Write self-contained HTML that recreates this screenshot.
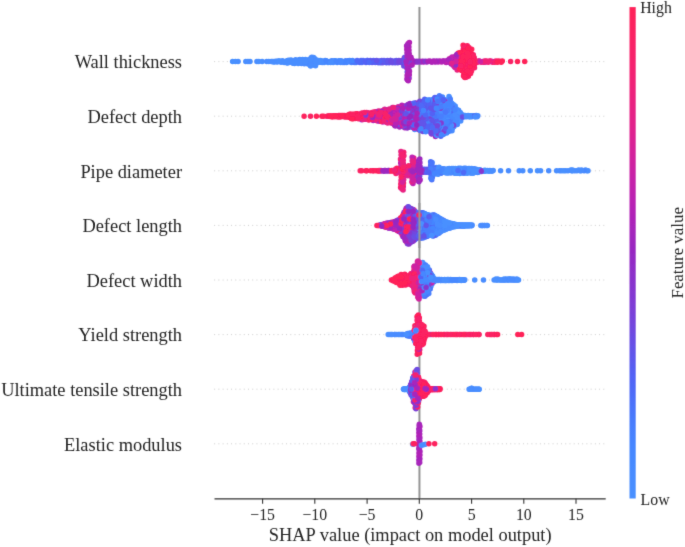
<!DOCTYPE html><html><head><meta charset="utf-8"><style>html,body{margin:0;padding:0;background:#fff;}svg{display:block}text{font-family:"Liberation Serif",serif;fill:#262626}</style></head><body>
<svg width="685" height="547" viewBox="0 0 685 547">
<defs><filter id="bl" x="0" y="0" width="100%" height="100%" filterUnits="userSpaceOnUse" primitiveUnits="userSpaceOnUse"><feConvolveMatrix order="3" kernelMatrix="0.0113 0.0838 0.0113 0.0838 0.6193 0.0838 0.0113 0.0838 0.0113" edgeMode="duplicate" preserveAlpha="false"/></filter></defs>
<rect width="685" height="547" fill="#fff"/>
<g filter="url(#bl)">
<line x1="214.2" y1="61.6" x2="605.7" y2="61.6" stroke="#c4c4c4" stroke-width="0.9" stroke-dasharray="0.9 3.33"/>
<line x1="214.2" y1="116.2" x2="605.7" y2="116.2" stroke="#c4c4c4" stroke-width="0.9" stroke-dasharray="0.9 3.33"/>
<line x1="214.2" y1="170.8" x2="605.7" y2="170.8" stroke="#c4c4c4" stroke-width="0.9" stroke-dasharray="0.9 3.33"/>
<line x1="214.2" y1="225.4" x2="605.7" y2="225.4" stroke="#c4c4c4" stroke-width="0.9" stroke-dasharray="0.9 3.33"/>
<line x1="214.2" y1="280.0" x2="605.7" y2="280.0" stroke="#c4c4c4" stroke-width="0.9" stroke-dasharray="0.9 3.33"/>
<line x1="214.2" y1="334.6" x2="605.7" y2="334.6" stroke="#c4c4c4" stroke-width="0.9" stroke-dasharray="0.9 3.33"/>
<line x1="214.2" y1="389.2" x2="605.7" y2="389.2" stroke="#c4c4c4" stroke-width="0.9" stroke-dasharray="0.9 3.33"/>
<line x1="214.2" y1="443.8" x2="605.7" y2="443.8" stroke="#c4c4c4" stroke-width="0.9" stroke-dasharray="0.9 3.33"/>
<line x1="419.45" y1="7.1" x2="419.45" y2="498.8" stroke="#949494" stroke-width="2.0"/>
<g fill="none" stroke-width="5.5" stroke-linecap="round"><path stroke="#4d70f9" d="M378.4 62.7h0"/><path stroke="#fb2062" d="M460.7 59.1h0M463.3 64.3h0M465.8 57.1h0M464.3 55.3h0M468.5 55.5h0M466.9 53.7h0M468.4 76.3h0M473.2 62.5h0"/><path stroke="#f52070" d="M474.5 67.7h0"/><path stroke="#5262f5" d="M361.1 60.6h0M364.2 61.6h0M366.0 62.6h0"/><path stroke="#4585ff" d="M331.8 60.7h0M351.4 62.6h0"/><path stroke="#8b32cb" d="M405.1 60.7h0M411.9 61.6h0"/><path stroke="#fd205d" d="M463.2 61.1h0M466.5 61.6h0M469.3 61.6h0M460.4 61.6h0M461.4 58.3h0M462.1 57.4h0M463.9 68.7h0M465.9 71.4h0M468.7 59.0h0M470.7 58.1h0M470.3 51.1h0"/><path stroke="#ff2058" d="M459.1 61.6h0M459.8 62.4h0M461.1 62.5h0M460.2 65.2h0M463.4 52.5h0M465.3 46.2h0M464.9 77.6h0M468.4 61.6h0M468.2 65.1h0M468.8 69.4h0M466.1 51.1h0M469.6 51.9h0M472.1 59.9h0M472.8 59.1h0M524.7 61.6h0"/><path stroke="#487efd" d="M345.8 60.7h0M348.8 61.6h0M347.7 60.7h0M350.7 61.6h0"/><path stroke="#c621a9" d="M485.0 62.2h0"/><path stroke="#4f69f7" d="M367.5 60.6h0"/><path stroke="#b822b4" d="M441.1 61.6h0M441.8 62.1h0M451.3 61.6h0M408.8 70.3h0M446.3 62.6h0M455.4 56.4h0"/><path stroke="#af23b7" d="M445.1 61.6h0M449.0 61.6h0M482.9 61.6h0M408.0 59.0h0M408.9 46.8h0M407.7 76.4h0M409.1 78.2h0M406.9 79.1h0M409.4 42.4h0M405.8 59.8h0M411.2 60.7h0M411.0 57.2h0"/><path stroke="#902dc6" d="M412.6 62.0h0M456.7 62.4h0"/><path stroke="#6a4ee4" d="M381.1 61.1h0M403.3 61.6h0"/><path stroke="#a725bb" d="M409.0 50.3h0M404.2 58.1h0M409.6 59.0h0"/><path stroke="#4687ff" d="M344.7 62.5h0"/><path stroke="#f7206b" d="M455.6 59.9h0M471.5 60.7h0"/><path stroke="#f12176" d="M456.0 61.6h0"/><path stroke="#4a90ff" d="M281.1 62.3h0M289.3 61.6h0M299.3 59.7h0M301.4 60.9h0M308.1 61.6h0M307.3 63.8h0M315.7 60.4h0M232.6 61.6h0M235.4 61.6h0M250.0 61.6h0"/><path stroke="#488cff" d="M286.6 62.7h0M301.6 63.6h0M309.9 63.4h0M311.4 60.2h0M316.8 62.2h0M319.7 62.2h0M321.5 62.1h0M322.2 62.6h0M315.2 59.1h0M314.1 64.1h0M248.0 61.6h0"/><path stroke="#c020b0" d="M450.2 61.1h0"/><path stroke="#7247de" d="M404.0 62.5h0M410.0 62.5h0"/><path stroke="#cd22a2" d="M453.4 61.6h0"/><path stroke="#498eff" d="M262.2 61.6h0M276.6 61.6h0M278.4 61.1h0M282.4 60.7h0M284.2 62.5h0M288.2 60.9h0M291.0 60.0h0M298.2 63.5h0M302.1 60.3h0M311.8 61.6h0M312.5 62.3h0M320.4 60.6h0M312.9 58.2h0"/><path stroke="#4789ff" d="M317.9 61.0h0M338.9 60.7h0M342.2 61.6h0M310.8 62.5h0"/><path stroke="#e82282" d="M490.8 61.0h0"/><path stroke="#9e26be" d="M449.9 62.4h0M450.6 63.1h0"/><path stroke="#d3229c" d="M479.3 61.0h0M453.2 65.0h0M458.1 67.5h0"/><path stroke="#f92066" d="M466.7 66.8h0M468.6 72.9h0M470.5 54.6h0M474.2 57.4h0"/><path stroke="#e42388" d="M491.9 61.6h0"/><path stroke="#6254e9" d="M375.7 61.1h0M377.0 61.6h0M380.0 62.1h0M381.8 60.5h0M382.1 62.1h0M385.7 62.1h0M389.6 61.0h0M392.9 61.0h0M393.7 61.6h0M405.1 60.7h0M406.4 59.0h0"/><path stroke="#4a77fb" d="M356.0 62.6h0"/><path stroke="#ff2058" d="M464.3 62.1h0M471.3 62.1h0M458.0 60.7h0M459.0 65.0h0M457.4 66.6h0M462.9 59.9h0M464.2 61.6h0M465.0 54.4h0M465.2 70.5h0M463.1 45.3h0M467.3 60.7h0M466.4 58.1h0M467.8 56.3h0M467.4 67.7h0M468.3 51.9h0M469.7 61.6h0M469.4 68.5h0"/><path stroke="#4687ff" d="M337.2 62.5h0"/><path stroke="#e82282" d="M454.3 61.6h0M456.1 55.5h0M459.2 55.5h0M457.2 70.0h0"/><path stroke="#487efd" d="M342.9 62.5h0"/><path stroke="#fb2062" d="M462.1 62.1h0M462.2 60.8h0M464.9 62.5h0M464.7 66.0h0M464.5 69.6h0M465.5 49.8h0M467.7 75.5h0M466.6 46.7h0M470.0 59.0h0M471.6 67.6h0M474.6 64.2h0M472.4 65.1h0"/><path stroke="#5262f5" d="M359.9 62.6h0M373.5 60.6h0M380.7 62.7h0"/><path stroke="#f7206b" d="M488.2 62.2h0M470.9 66.7h0"/><path stroke="#c020b0" d="M423.9 62.0h0M408.3 51.1h0"/><path stroke="#9628c2" d="M453.6 58.9h0"/><path stroke="#8536cf" d="M454.7 57.2h0"/><path stroke="#f52070" d="M476.6 61.6h0"/><path stroke="#4789ff" d="M285.9 62.2h0"/><path stroke="#f92066" d="M473.3 61.0h0M492.6 62.2h0M459.9 54.6h0M463.6 56.2h0M466.8 50.2h0M467.5 49.3h0M466.2 77.2h0M469.2 71.9h0M473.1 66.0h0M510.6 61.6h0"/><path stroke="#e0248e" d="M487.2 61.6h0M496.9 61.6h0M457.1 58.1h0"/><path stroke="#e42388" d="M451.0 60.7h0"/><path stroke="#b822b4" d="M440.5 61.6h0M451.4 58.0h0M404.6 63.4h0M406.0 65.1h0"/><path stroke="#6a4ee4" d="M377.7 62.1h0M387.5 60.5h0M394.4 62.2h0M411.4 64.2h0"/><path stroke="#7247de" d="M373.9 61.6h0M384.4 61.6h0M385.0 61.6h0M398.9 60.5h0M399.8 61.6h0M402.3 60.6h0M408.4 77.3h0"/><path stroke="#5a5bef" d="M370.3 60.6h0M372.1 62.6h0M383.3 61.1h0M395.6 61.0h0"/><path stroke="#4a90ff" d="M328.0 62.5h0"/><path stroke="#d3229c" d="M452.0 62.1h0"/><path stroke="#c621a9" d="M494.2 61.6h0"/><path stroke="#cd22a2" d="M449.4 58.8h0"/><path stroke="#f12176" d="M481.1 62.2h0M458.7 59.9h0"/><path stroke="#488cff" d="M266.7 61.6h0M272.3 61.6h0M274.0 61.6h0M280.4 61.6h0M296.1 61.6h0M295.6 59.8h0M311.0 59.8h0M311.8 57.2h0M314.8 65.0h0"/><path stroke="#fd205d" d="M470.6 61.6h0M474.4 61.6h0M457.6 63.3h0M458.4 52.9h0M461.2 54.9h0M462.6 53.2h0M465.1 58.0h0M464.1 51.6h0M463.5 75.8h0M466.5 70.3h0M471.1 63.3h0"/><path stroke="#9e26be" d="M447.4 60.6h0M456.5 65.7h0"/><path stroke="#902dc6" d="M421.2 62.0h0"/><path stroke="#a725bb" d="M434.8 61.6h0M408.7 58.1h0M407.6 79.9h0M451.3 63.9h0M405.3 64.2h0"/><path stroke="#4585ff" d="M349.6 60.6h0"/><path stroke="#da2395" d="M454.9 60.7h0"/><path stroke="#6254e9" d="M382.8 62.7h0M389.2 62.7h0"/><path stroke="#498eff" d="M275.8 61.3h0M274.7 61.9h0M277.3 62.1h0M297.5 62.6h0M300.9 62.9h0M299.8 59.6h0M307.0 60.9h0M305.9 62.3h0M306.6 63.1h0M313.6 60.9h0M312.2 64.2h0M312.7 62.4h0M314.5 59.9h0M313.6 57.4h0M245.8 61.6h0"/><path stroke="#af23b7" d="M439.4 61.1h0M406.6 60.7h0M409.1 63.3h0M407.8 55.5h0M406.6 45.9h0M408.0 44.1h0M454.3 66.6h0M412.3 61.6h0M410.7 63.4h0"/><path stroke="#ed227c" d="M476.5 62.6h0"/><path stroke="#4f69f7" d="M353.6 61.6h0"/><path stroke="#f7206b" d="M496.0 61.0h0M454.4 63.3h0M464.4 58.9h0M469.3 59.8h0M474.4 60.8h0M473.3 54.8h0"/><path stroke="#b822b4" d="M438.2 62.1h0M447.9 61.1h0M407.5 48.5h0"/><path stroke="#488cff" d="M256.9 61.6h0M287.7 60.5h0M298.6 60.6h0M303.8 63.0h0M307.7 60.1h0M308.5 61.6h0M319.0 61.6h0M323.4 61.6h0M324.1 62.6h0M311.1 58.1h0M314.9 61.6h0"/><path stroke="#4a77fb" d="M354.3 62.6h0"/><path stroke="#f52070" d="M486.1 61.0h0M457.8 57.2h0M464.0 65.2h0"/><path stroke="#fb2062" d="M498.7 61.0h0M500.5 61.6h0M458.3 64.1h0M463.1 60.7h0M465.6 63.4h0M463.3 48.9h0M466.1 62.5h0M467.5 64.2h0M466.0 65.9h0M467.3 45.8h0M470.6 73.6h0M471.9 56.5h0M473.8 66.8h0M475.8 61.6h0"/><path stroke="#8b32cb" d="M410.6 61.1h0M413.7 61.2h0"/><path stroke="#cd22a2" d="M455.1 64.1h0M458.8 68.3h0"/><path stroke="#a725bb" d="M431.4 62.1h0M453.2 61.1h0M407.3 59.9h0M408.9 66.8h0M406.7 67.7h0M408.1 69.5h0M409.3 74.7h0M452.9 59.8h0M452.5 64.1h0"/><path stroke="#4687ff" d="M346.6 62.5h0"/><path stroke="#f92066" d="M461.9 54.1h0M460.8 69.6h0M465.4 66.9h0M465.7 53.5h0M464.4 73.2h0M464.0 48.0h0M464.6 47.1h0"/><path stroke="#5a5bef" d="M378.9 61.1h0M384.0 60.5h0M386.8 61.1h0"/><path stroke="#9e26be" d="M433.4 61.1h0M457.8 61.1h0M449.2 61.6h0"/><path stroke="#fd205d" d="M457.7 53.8h0M461.5 70.5h0M463.7 72.3h0M465.8 74.9h0M467.0 74.6h0M471.3 57.2h0M469.8 55.5h0M471.2 53.7h0M473.5 58.2h0"/><path stroke="#6a4ee4" d="M401.7 61.1h0M403.9 62.5h0M403.8 66.0h0M409.9 66.0h0"/><path stroke="#4585ff" d="M344.0 61.6h0"/><path stroke="#902dc6" d="M415.1 61.6h0"/><path stroke="#d3229c" d="M453.9 65.8h0M455.0 67.4h0"/><path stroke="#4789ff" d="M327.3 61.6h0M330.0 61.6h0M335.4 60.7h0M340.0 61.6h0"/><path stroke="#498eff" d="M292.2 62.4h0M292.9 63.2h0M303.1 62.3h0M309.2 62.5h0M320.8 61.6h0M322.6 61.1h0M325.2 60.6h0M238.1 61.6h0"/><path stroke="#5262f5" d="M367.1 60.6h0"/><path stroke="#ff2058" d="M475.1 62.2h0M502.3 61.0h0M456.9 58.1h0M461.8 63.4h0M460.5 55.7h0M462.3 67.8h0M464.8 50.7h0M469.5 65.0h0M471.0 50.2h0M471.7 49.3h0"/><path stroke="#c020b0" d="M452.2 60.7h0M452.1 57.1h0"/><path stroke="#e42388" d="M478.4 61.0h0"/><path stroke="#7247de" d="M401.2 62.6h0"/><path stroke="#4f69f7" d="M363.1 60.6h0M361.9 62.6h0"/><path stroke="#6254e9" d="M371.4 61.6h0M392.5 62.7h0M396.3 60.5h0M395.1 62.7h0M400.5 62.1h0M407.2 72.1h0M404.9 57.2h0"/><path stroke="#da2395" d="M456.7 62.1h0M490.4 61.6h0"/><path stroke="#af23b7" d="M430.7 61.6h0M443.9 61.1h0M408.4 62.5h0M407.5 65.1h0M408.2 66.0h0M407.1 56.4h0M408.5 54.6h0M407.9 72.9h0M406.8 49.4h0M408.2 47.6h0M408.3 80.8h0M411.9 59.8h0"/><path stroke="#8536cf" d="M407.2 61.6h0M407.8 62.3h0M408.8 61.6h0"/><path stroke="#f12176" d="M459.4 59.0h0"/><path stroke="#4a90ff" d="M279.3 60.9h0M293.8 62.5h0M296.8 61.6h0M304.9 60.2h0M305.4 59.4h0M310.4 60.7h0M315.0 61.0h0M318.6 60.5h0M317.5 62.7h0"/><path stroke="#f52070" d="M477.3 62.2h0M459.6 65.8h0M458.5 56.4h0"/><path stroke="#e82282" d="M483.6 62.2h0"/><path stroke="#fb2062" d="M460.1 62.1h0M461.4 61.6h0M465.4 61.1h0M463.2 67.8h0M468.0 59.8h0M466.8 63.3h0M466.2 54.6h0M468.1 68.5h0M467.9 72.0h0M466.3 73.7h0M468.9 47.6h0M470.1 69.3h0M470.8 70.2h0M471.5 71.0h0M472.6 55.6h0M472.2 68.6h0M474.6 60.6h0"/><path stroke="#4789ff" d="M304.2 60.9h0M332.5 61.6h0M340.7 62.5h0M341.0 60.7h0M309.9 65.1h0"/><path stroke="#902dc6" d="M416.9 61.2h0M417.4 61.6h0M455.8 64.9h0"/><path stroke="#4585ff" d="M352.5 60.6h0"/><path stroke="#5a5bef" d="M368.6 61.6h0M375.3 62.6h0M386.4 62.7h0M388.5 62.2h0M397.1 62.2h0"/><path stroke="#4a90ff" d="M258.8 61.6h0M271.2 61.4h0M285.2 61.6h0M288.9 60.3h0M287.8 62.9h0M291.5 61.6h0M300.2 62.3h0M313.2 63.0h0M313.4 63.3h0"/><path stroke="#488cff" d="M304.4 63.7h0M314.5 62.8h0M334.3 60.7h0M333.2 62.5h0M310.1 61.6h0M311.9 60.7h0M309.7 59.8h0M311.5 63.4h0M313.8 60.8h0"/><path stroke="#4687ff" d="M326.2 60.7h0M336.5 61.6h0"/><path stroke="#5262f5" d="M365.3 61.6h0M374.6 62.1h0M379.3 61.6h0"/><path stroke="#b822b4" d="M445.8 62.1h0M446.7 62.1h0M407.7 61.6h0M406.9 64.2h0M408.6 73.8h0M408.7 43.3h0M456.3 59.0h0"/><path stroke="#9e26be" d="M423.3 61.6h0M427.0 62.0h0M436.7 61.1h0M456.8 54.6h0"/><path stroke="#f12176" d="M484.7 61.0h0M489.3 61.0h0"/><path stroke="#f7206b" d="M494.9 62.2h0M460.1 68.7h0M468.8 64.2h0"/><path stroke="#cd22a2" d="M480.4 61.6h0"/><path stroke="#4d70f9" d="M358.3 61.6h0"/><path stroke="#ff2058" d="M459.4 61.6h0M497.6 62.2h0M501.2 62.2h0M459.5 69.2h0M461.6 66.9h0M460.3 52.4h0M463.7 59.8h0M465.1 74.0h0M468.2 48.4h0M470.2 65.9h0M468.9 52.8h0M472.5 61.6h0M517.5 61.6h0"/><path stroke="#9628c2" d="M415.8 62.0h0M419.2 61.2h0M420.5 61.6h0M426.3 61.6h0M454.1 62.4h0"/><path stroke="#803bd4" d="M409.5 62.1h0"/><path stroke="#6254e9" d="M376.6 60.5h0M387.8 61.6h0M390.3 60.5h0M390.7 60.5h0"/><path stroke="#fd205d" d="M461.2 61.1h0M468.2 61.1h0M472.4 61.1h0M462.5 64.3h0M462.8 56.6h0M464.2 76.7h0M467.1 57.2h0M467.6 52.8h0M467.2 71.1h0M470.4 62.5h0M469.1 56.3h0M469.9 72.7h0M473.9 63.4h0"/><path stroke="#498eff" d="M268.8 61.6h0M273.0 61.8h0M283.5 61.6h0M287.0 61.0h0M290.0 62.3h0M293.3 60.8h0M294.9 60.7h0M294.5 63.4h0M299.6 61.6h0M305.3 61.6h0M302.6 59.5h0M316.1 61.6h0M330.7 62.5h0M310.4 59.0h0M310.6 66.0h0M315.5 65.8h0"/><path stroke="#7a40d8" d="M406.0 60.9h0"/><path stroke="#c020b0" d="M445.6 61.6h0"/><path stroke="#6a4ee4" d="M391.1 61.6h0M391.8 62.2h0M398.2 61.0h0M397.8 62.7h0"/><path stroke="#a725bb" d="M422.3 61.2h0M435.5 62.1h0M407.4 68.6h0M407.0 52.9h0M407.3 45.0h0M448.8 59.7h0M406.2 61.6h0M410.3 58.1h0"/><path stroke="#4f69f7" d="M357.1 60.6h0M359.2 61.6h0M369.3 62.6h0"/><path stroke="#7247de" d="M399.4 61.6h0"/><path stroke="#8b32cb" d="M418.1 62.0h0M425.1 61.2h0"/><path stroke="#af23b7" d="M428.1 61.2h0M429.6 61.1h0M434.5 61.6h0M432.3 62.1h0M443.0 61.1h0M455.0 62.1h0M409.4 57.2h0M409.2 53.7h0M407.6 52.0h0M409.5 71.2h0M407.1 75.6h0M412.1 65.1h0"/><path stroke="#d3229c" d="M456.0 61.6h0"/><path stroke="#f92066" d="M470.0 62.1h0M460.9 66.0h0"/><path stroke="#e0248e" d="M451.8 63.3h0"/><path stroke="#af23b7" d="M367.1 116.2h0M393.4 121.4h0M395.6 117.6h0"/><path stroke="#f52070" d="M358.6 116.2h0M363.0 115.1h0M364.5 116.2h0M373.8 116.2h0M385.6 112.1h0M390.9 112.3h0"/><path stroke="#ed227c" d="M363.6 118.3h0M379.0 119.6h0M386.0 110.7h0M387.9 111.0h0M396.8 117.5h0"/><path stroke="#498eff" d="M421.7 104.1h0M440.0 117.5h0M440.4 120.2h0M442.6 133.1h0M446.8 113.5h0M446.8 127.4h0M448.5 106.5h0M449.6 107.7h0M450.8 105.7h0M457.7 116.2h0M465.9 116.2h0M471.8 116.7h0M475.2 116.2h0M476.2 115.6h0"/><path stroke="#487efd" d="M431.2 106.8h0M433.0 105.3h0M433.4 117.5h0M435.0 106.9h0M437.3 114.9h0M437.2 109.5h0M439.6 106.7h0M439.3 132.2h0M439.0 97.2h0M443.1 112.1h0M444.3 120.3h0M449.0 118.9h0"/><path stroke="#f92066" d="M326.9 116.2h0M327.6 115.9h0M363.9 115.0h0"/><path stroke="#b822b4" d="M386.8 120.3h0M394.7 120.1h0M396.2 109.1h0M398.6 125.6h0M402.5 114.8h0"/><path stroke="#4789ff" d="M414.7 129.6h0M419.9 106.7h0M430.4 114.9h0M434.3 102.9h0M439.6 116.2h0M439.4 126.9h0M444.9 106.7h0M448.4 116.2h0M448.6 128.6h0M448.4 100.9h0M449.5 102.1h0M453.0 111.0h0M454.4 123.1h0"/><path stroke="#7a40d8" d="M410.1 114.8h0M412.9 111.0h0M418.6 114.9h0M422.0 125.9h0M424.0 126.0h0M423.1 128.8h0M431.3 112.2h0M434.2 120.2h0"/><path stroke="#4a90ff" d="M432.1 102.5h0M437.0 124.3h0M444.4 108.1h0M444.5 132.6h0M449.0 96.5h0M453.9 113.6h0M453.2 118.8h0M454.6 111.1h0M455.4 108.6h0M456.2 108.8h0"/><path stroke="#c621a9" d="M388.2 122.1h0M391.7 109.9h0M392.5 107.4h0M398.3 112.2h0M396.9 110.8h0"/><path stroke="#6254e9" d="M417.8 123.0h0M420.6 119.0h0M424.1 120.4h0M424.8 104.9h0M425.3 130.5h0M427.3 106.7h0M431.8 109.4h0M435.1 112.2h0M436.8 110.9h0M441.5 110.8h0M440.4 102.8h0M446.1 119.0h0"/><path stroke="#803bd4" d="M405.7 108.6h0M416.0 105.8h0M418.5 109.5h0M418.9 108.1h0M423.7 119.0h0M430.1 124.5h0M435.4 117.6h0"/><path stroke="#4d70f9" d="M409.1 106.3h0M421.1 123.1h0M422.9 116.2h0M424.9 129.2h0M427.4 112.1h0M428.2 102.9h0M431.4 123.1h0M431.6 118.9h0M440.2 130.8h0M440.6 132.2h0M442.0 98.4h0"/><path stroke="#7247de" d="M412.6 127.6h0M414.8 124.3h0M414.9 104.3h0M419.1 121.6h0M426.9 113.5h0M430.7 102.8h0M442.1 103.9h0M444.5 113.5h0"/><path stroke="#fd205d" d="M331.6 116.2h0M339.4 116.9h0M344.5 115.4h0M357.9 117.5h0M375.7 111.7h0"/><path stroke="#f7206b" d="M366.5 116.2h0M376.4 116.2h0"/><path stroke="#cd22a2" d="M382.0 118.9h0M398.2 106.8h0M404.2 117.5h0"/><path stroke="#5a5bef" d="M407.0 109.8h0M408.0 109.7h0M412.4 107.1h0M415.3 103.0h0M424.5 127.9h0M429.4 124.0h0M432.8 123.1h0M432.2 108.0h0M431.5 124.4h0M438.2 128.4h0M459.9 113.7h0"/><path stroke="#d3229c" d="M392.2 113.7h0"/><path stroke="#a725bb" d="M402.4 109.4h0M403.3 106.7h0M404.2 122.6h0M406.9 119.0h0M417.3 116.2h0"/><path stroke="#902dc6" d="M406.5 117.6h0M406.8 124.5h0M409.9 103.5h0M412.5 112.3h0M414.0 121.3h0M415.2 125.6h0M419.2 116.2h0M417.7 112.2h0"/><path stroke="#4687ff" d="M434.7 101.6h0M434.9 101.5h0M435.8 98.9h0M438.1 112.2h0M439.9 122.9h0M439.9 99.9h0M440.8 101.5h0M441.7 98.8h0M442.4 97.1h0M449.3 114.8h0M452.2 112.3h0M454.9 119.0h0M456.3 113.7h0"/><path stroke="#6a4ee4" d="M409.0 121.6h0M416.1 111.0h0M417.9 117.6h0M417.7 128.4h0M429.0 117.5h0M429.8 117.6h0M433.7 124.3h0M436.4 132.4h0M440.1 134.9h0"/><path stroke="#8b32cb" d="M393.0 111.2h0M408.6 126.7h0M418.8 129.8h0M437.7 132.5h0"/><path stroke="#4a77fb" d="M428.7 106.9h0M438.0 116.2h0M442.7 113.5h0M441.9 124.7h0"/><path stroke="#488cff" d="M438.8 109.4h0M441.5 129.5h0M442.9 101.2h0M443.8 124.4h0M445.6 123.2h0M446.7 108.1h0M451.4 114.9h0M451.6 120.2h0M451.0 124.1h0M453.5 114.9h0M460.2 116.2h0M461.1 117.9h0M473.2 116.2h0"/><path stroke="#ff2058" d="M330.3 116.5h0M333.9 116.2h0M332.6 116.8h0M343.7 116.2h0M347.2 117.0h0M350.1 113.9h0M351.1 118.3h0M353.2 118.8h0M356.4 116.2h0M355.7 115.0h0M356.1 113.8h0M360.2 117.4h0M360.6 118.5h0M366.2 113.7h0M390.5 113.6h0"/><path stroke="#9e26be" d="M399.1 110.6h0M405.1 120.0h0M405.9 127.3h0M416.6 109.7h0"/><path stroke="#f12176" d="M376.9 120.8h0M384.0 113.8h0M392.4 116.2h0M392.6 112.4h0"/><path stroke="#9628c2" d="M398.4 121.6h0M402.2 124.1h0M406.2 112.4h0M407.1 107.1h0M409.1 116.2h0M410.2 125.7h0M413.8 113.6h0"/><path stroke="#4585ff" d="M424.4 127.4h0M432.6 106.6h0M435.9 104.2h0M437.5 120.3h0M442.5 102.5h0M444.1 114.8h0M443.9 104.0h0M443.7 129.9h0M450.7 117.5h0"/><path stroke="#c020b0" d="M408.8 116.2h0"/><path stroke="#e42388" d="M386.5 109.7h0"/><path stroke="#fb2062" d="M337.1 116.7h0M340.7 116.2h0M353.1 117.4h0M361.9 116.2h0M367.2 112.8h0"/><path stroke="#e0248e" d="M378.4 111.1h0M383.8 119.7h0M390.0 109.7h0"/><path stroke="#da2395" d="M384.8 114.8h0M385.8 122.1h0M398.8 122.9h0"/><path stroke="#5262f5" d="M420.9 126.1h0M425.8 126.6h0M431.9 114.8h0M436.5 127.0h0M440.1 110.8h0"/><path stroke="#4f69f7" d="M420.9 114.8h0M420.7 104.0h0M428.3 108.2h0M434.1 125.6h0M437.4 97.6h0"/><path stroke="#e82282" d="M368.3 119.6h0M392.3 121.2h0M394.6 125.3h0M396.6 107.7h0"/><path stroke="#5a5bef" d="M400.5 108.3h0M407.4 117.5h0M420.2 117.6h0M420.0 112.1h0M420.3 105.4h0M420.0 129.0h0M422.5 121.7h0M433.2 129.9h0M436.1 125.7h0"/><path stroke="#4687ff" d="M433.8 98.9h0M438.0 106.9h0M438.7 104.0h0M442.7 127.5h0M447.0 101.4h0M447.7 114.8h0M450.1 128.5h0M450.6 129.8h0M452.6 112.3h0M453.4 109.7h0"/><path stroke="#6a4ee4" d="M416.3 123.7h0M423.9 109.3h0M426.2 112.0h0M434.1 114.9h0M438.4 117.6h0M445.0 128.5h0M446.3 109.5h0M458.7 115.0h0"/><path stroke="#6254e9" d="M419.7 121.9h0M420.5 124.7h0M432.5 116.2h0M452.3 128.1h0"/><path stroke="#7a40d8" d="M411.9 114.9h0M413.3 109.7h0M422.6 116.2h0M422.1 102.8h0M424.3 107.9h0M431.1 101.4h0M433.1 110.7h0M442.2 131.7h0"/><path stroke="#f7206b" d="M376.8 117.3h0"/><path stroke="#8536cf" d="M395.8 110.5h0M398.6 112.0h0M404.8 109.9h0M407.9 118.8h0M410.6 113.4h0M409.8 124.3h0M414.9 118.9h0M415.7 121.6h0M418.3 118.9h0M426.0 100.7h0M436.0 109.5h0"/><path stroke="#ed227c" d="M369.6 113.0h0M377.4 114.8h0M377.2 118.5h0M379.5 116.2h0"/><path stroke="#4789ff" d="M433.3 122.9h0M436.2 135.1h0M438.9 130.9h0M440.6 113.5h0M443.0 134.6h0M445.0 112.1h0M445.2 99.9h0M447.1 106.8h0M446.6 102.7h0M445.7 100.0h0M451.6 103.1h0M470.6 115.7h0M477.8 115.7h0"/><path stroke="#c020b0" d="M382.8 122.0h0M399.3 118.9h0M404.0 112.4h0M410.0 109.1h0"/><path stroke="#f52070" d="M369.5 116.2h0M378.6 118.5h0M389.6 121.0h0"/><path stroke="#c621a9" d="M387.5 112.3h0M398.1 116.2h0"/><path stroke="#e0248e" d="M375.2 116.2h0M380.7 120.0h0"/><path stroke="#f92066" d="M345.5 116.9h0M360.9 114.8h0M370.3 118.8h0M371.9 116.2h0"/><path stroke="#ff2058" d="M321.9 116.2h0M334.8 116.7h0M349.5 117.6h0M351.4 115.1h0M352.0 115.2h0M354.6 117.5h0M362.3 117.3h0M365.0 117.2h0M374.7 120.2h0M383.6 115.0h0M316.4 116.2h0"/><path stroke="#9e26be" d="M397.5 125.6h0M400.8 116.2h0M404.3 106.1h0M411.2 117.5h0M410.7 121.5h0M415.8 116.2h0M414.2 112.2h0M415.0 109.6h0M435.5 136.5h0"/><path stroke="#902dc6" d="M405.2 108.7h0M411.4 110.9h0M411.1 122.8h0M412.2 108.2h0M414.5 105.6h0M419.1 127.1h0M431.6 134.1h0"/><path stroke="#498eff" d="M442.3 126.1h0M448.7 123.1h0M450.1 112.0h0M449.4 120.3h0M453.8 108.4h0M454.5 117.6h0M456.7 112.5h0M458.1 117.6h0M459.1 113.8h0M464.1 115.4h0M464.5 116.8h0"/><path stroke="#487efd" d="M423.1 112.0h0M430.0 130.0h0M432.7 128.6h0M435.7 124.3h0M440.2 114.9h0M445.2 117.6h0M447.7 131.4h0"/><path stroke="#b822b4" d="M394.9 108.7h0M398.0 121.6h0M400.9 107.0h0M402.3 118.8h0M403.9 107.4h0M413.2 104.5h0"/><path stroke="#da2395" d="M372.9 119.1h0M382.9 117.4h0M389.0 115.0h0M389.4 113.8h0"/><path stroke="#fb2062" d="M328.3 116.2h0M341.0 116.8h0M344.1 116.8h0M346.8 116.2h0M349.1 116.2h0M379.9 117.5h0M380.3 118.7h0M382.3 114.9h0"/><path stroke="#8b32cb" d="M403.6 117.5h0M413.1 123.8h0M417.0 108.4h0M417.4 107.1h0"/><path stroke="#803bd4" d="M412.3 113.5h0M415.3 120.2h0M419.8 101.3h0M425.5 120.1h0M426.8 102.6h0M439.7 133.5h0M440.8 121.5h0"/><path stroke="#9628c2" d="M384.9 119.8h0M397.9 113.5h0M399.5 109.2h0M400.1 114.9h0M401.6 118.8h0M403.8 116.2h0M405.3 113.7h0M405.5 125.9h0M407.2 112.3h0M407.3 122.7h0M409.9 118.9h0M411.8 109.5h0M413.6 120.0h0"/><path stroke="#488cff" d="M435.6 110.9h0M438.4 129.5h0M442.8 121.8h0M445.1 123.0h0M446.7 133.1h0M452.1 116.2h0M455.9 115.0h0M458.6 110.3h0M460.6 117.4h0"/><path stroke="#4d70f9" d="M408.7 121.4h0M419.6 127.5h0M424.0 114.8h0M437.5 102.9h0M446.4 114.9h0"/><path stroke="#e42388" d="M371.0 118.3h0M380.1 111.3h0M381.6 117.5h0"/><path stroke="#f12176" d="M366.9 117.7h0M368.2 115.1h0M382.4 120.2h0M383.4 118.5h0"/><path stroke="#fd205d" d="M329.3 115.9h0M332.0 116.7h0M336.7 116.2h0M340.1 115.6h0M348.5 114.7h0M350.7 117.2h0M353.5 115.2h0M304.1 116.2h0"/><path stroke="#4a90ff" d="M439.5 121.5h0M448.2 113.4h0M449.9 100.7h0M449.6 97.9h0M451.7 108.3h0M454.0 126.5h0M458.5 118.9h0M459.5 114.9h0M459.7 119.8h0M470.0 116.8h0"/><path stroke="#af23b7" d="M395.0 113.4h0M399.6 114.8h0M403.1 121.4h0M404.7 127.7h0M417.6 106.8h0"/><path stroke="#5262f5" d="M416.8 120.0h0M432.9 99.8h0M435.6 129.7h0M439.3 113.5h0M440.8 136.2h0"/><path stroke="#4585ff" d="M426.5 114.8h0M437.8 127.1h0M438.6 118.9h0M443.3 117.6h0M442.0 119.0h0M447.1 105.1h0M453.7 120.0h0M454.8 124.5h0M467.9 116.2h0"/><path stroke="#7247de" d="M364.3 113.8h0M419.0 113.5h0M420.8 109.4h0M419.3 102.6h0M425.0 124.0h0M427.6 117.5h0M427.4 128.0h0M429.9 110.8h0"/><path stroke="#e82282" d="M367.5 117.3h0M386.6 114.9h0"/><path stroke="#a725bb" d="M359.4 118.4h0M361.7 119.7h0M381.2 116.2h0M393.9 117.5h0M399.6 127.0h0"/><path stroke="#cd22a2" d="M392.1 108.7h0"/><path stroke="#d3229c" d="M388.9 110.1h0M393.2 113.7h0"/><path stroke="#4f69f7" d="M425.4 125.3h0M426.6 125.4h0M429.5 104.2h0M434.4 108.2h0M437.1 104.2h0M437.3 131.1h0M447.3 130.0h0"/><path stroke="#4a77fb" d="M420.4 130.4h0M424.4 113.4h0M429.5 118.8h0M433.4 100.2h0"/><path stroke="#fd205d" d="M333.2 115.7h0M336.1 115.8h0M345.1 116.2h0M355.5 118.5h0M356.9 115.0h0M363.4 114.0h0M362.7 118.4h0M374.5 115.1h0"/><path stroke="#4d70f9" d="M421.2 117.6h0M422.4 127.3h0M426.7 120.1h0M432.4 121.7h0M434.6 121.6h0M435.2 128.4h0M437.0 118.9h0M437.9 121.6h0M442.3 114.8h0M446.2 104.1h0"/><path stroke="#7247de" d="M399.2 124.3h0M400.7 121.5h0M403.6 126.4h0M419.8 116.2h0M419.3 120.5h0M419.4 108.1h0M423.0 106.5h0M424.6 122.7h0M430.3 109.5h0"/><path stroke="#b822b4" d="M373.3 120.5h0M396.3 114.8h0M397.2 118.9h0M401.8 109.6h0M401.5 124.1h0M401.9 105.3h0M406.6 111.1h0M409.2 112.0h0"/><path stroke="#4687ff" d="M431.9 125.8h0M435.8 118.9h0M437.7 113.5h0M440.0 105.3h0M441.4 105.5h0M442.4 120.4h0M443.2 123.3h0M450.3 117.6h0M452.8 117.5h0M453.1 123.9h0M455.7 121.7h0M456.1 120.3h0M457.1 111.3h0"/><path stroke="#e0248e" d="M365.6 119.2h0M377.7 120.7h0"/><path stroke="#9e26be" d="M367.9 118.5h0M379.4 121.2h0M427.8 110.8h0M436.3 102.9h0"/><path stroke="#da2395" d="M386.4 119.0h0M387.2 121.7h0M391.8 114.9h0M399.9 107.8h0"/><path stroke="#ed227c" d="M363.1 119.5h0M385.3 120.9h0M388.1 112.6h0"/><path stroke="#4a90ff" d="M440.3 125.5h0M443.0 106.6h0M443.4 105.3h0M445.8 105.4h0M449.9 116.2h0M449.7 113.4h0M450.5 110.6h0M451.3 109.6h0M452.9 105.9h0M452.6 127.7h0M455.5 113.7h0M454.2 112.4h0M460.7 121.0h0M461.4 115.3h0M472.5 115.7h0"/><path stroke="#4a77fb" d="M410.5 107.7h0M427.2 101.3h0M431.0 121.7h0M432.5 101.2h0M433.8 118.9h0M434.4 132.4h0M441.3 117.5h0M441.9 109.5h0M441.1 128.2h0"/><path stroke="#487efd" d="M436.1 114.9h0M438.9 114.8h0M439.1 120.2h0M438.6 98.5h0M439.4 95.8h0M440.7 126.8h0M444.6 127.1h0M445.9 110.8h0M451.8 113.6h0"/><path stroke="#e42388" d="M370.5 115.1h0M374.3 118.9h0M388.5 111.3h0"/><path stroke="#8b32cb" d="M361.3 113.5h0M408.2 125.4h0M410.9 106.9h0M414.6 110.9h0"/><path stroke="#498eff" d="M427.5 122.7h0M439.2 108.1h0M441.0 112.2h0M441.6 124.2h0M443.1 128.9h0M444.7 121.7h0M447.0 116.2h0M447.5 119.0h0M448.0 102.3h0M448.9 124.4h0M451.1 118.8h0M454.1 121.3h0M455.8 116.2h0M455.2 106.0h0M456.9 123.0h0M460.3 112.4h0M462.0 116.2h0M463.0 116.2h0M465.2 115.5h0M468.7 116.2h0M471.3 116.2h0M475.6 116.7h0M476.7 116.2h0M477.1 116.7h0"/><path stroke="#488cff" d="M428.1 120.1h0M432.7 112.1h0M445.9 130.3h0M448.1 107.9h0M450.2 123.0h0M452.0 121.5h0M457.4 118.9h0M457.6 121.6h0M473.8 115.8h0"/><path stroke="#7a40d8" d="M406.5 106.0h0M415.1 114.9h0M418.2 124.3h0M421.6 124.5h0M424.9 110.6h0M427.7 105.3h0"/><path stroke="#d3229c" d="M384.7 109.3h0M401.2 117.5h0M402.6 125.4h0"/><path stroke="#f52070" d="M368.6 113.9h0M369.2 114.1h0M375.3 112.8h0M391.0 122.9h0"/><path stroke="#f7206b" d="M352.7 116.2h0M372.1 112.6h0M371.4 119.4h0M380.6 115.0h0"/><path stroke="#cd22a2" d="M381.0 113.7h0M384.3 116.2h0M389.6 116.2h0M394.5 114.9h0M394.0 111.2h0"/><path stroke="#8536cf" d="M408.9 127.0h0M416.5 104.5h0M442.2 109.4h0"/><path stroke="#ff2058" d="M343.0 115.6h0M355.1 117.3h0M377.9 112.4h0"/><path stroke="#e82282" d="M364.0 119.3h0M373.6 113.3h0M383.1 111.5h0"/><path stroke="#4f69f7" d="M420.4 110.8h0M428.6 116.2h0M428.9 127.9h0M431.3 128.6h0M433.6 110.9h0M439.8 128.2h0M441.0 133.5h0M450.9 110.9h0"/><path stroke="#f92066" d="M368.9 120.0h0M376.1 113.3h0M381.1 121.5h0M394.2 124.0h0"/><path stroke="#af23b7" d="M388.7 118.6h0M393.6 112.4h0"/><path stroke="#c621a9" d="M394.4 109.9h0M395.2 116.2h0"/><path stroke="#6a4ee4" d="M406.1 107.3h0M410.6 126.8h0M413.7 108.4h0M419.5 113.5h0M422.7 112.2h0M423.6 124.6h0M425.7 107.7h0M427.8 129.3h0"/><path stroke="#902dc6" d="M397.8 108.2h0M407.2 128.0h0M415.8 103.2h0M423.5 130.2h0"/><path stroke="#5262f5" d="M403.4 112.1h0M422.1 120.4h0M423.4 105.1h0M424.7 117.5h0M426.8 108.0h0M426.3 104.0h0M428.8 112.2h0M429.7 100.2h0M430.4 131.4h0M431.7 103.9h0M434.9 97.6h0"/><path stroke="#9628c2" d="M400.3 120.1h0M407.9 104.5h0M412.3 116.2h0M412.8 117.5h0M415.4 108.3h0M417.5 112.3h0"/><path stroke="#a725bb" d="M376.5 111.9h0M391.3 111.0h0M398.5 116.2h0M403.2 116.2h0M402.7 120.1h0M402.0 110.8h0M408.3 120.1h0M411.6 118.9h0M411.0 112.2h0M411.3 105.5h0M416.4 118.7h0"/><path stroke="#4789ff" d="M425.1 118.8h0M434.5 113.5h0M434.8 106.9h0M438.3 123.0h0M445.4 110.8h0M445.7 117.6h0M446.5 120.4h0M447.8 125.8h0M449.7 127.1h0M454.1 107.3h0M458.2 111.5h0M461.8 114.5h0"/><path stroke="#c020b0" d="M390.2 120.2h0M393.2 123.7h0M395.4 111.9h0M395.9 124.7h0M400.6 113.6h0"/><path stroke="#803bd4" d="M412.0 120.2h0M418.1 110.8h0M418.0 105.4h0"/><path stroke="#6254e9" d="M414.4 117.5h0M417.1 126.2h0M421.4 110.8h0M422.2 108.2h0M425.8 113.4h0M426.1 106.3h0M425.2 103.5h0M427.9 124.1h0M428.0 125.3h0M436.9 129.8h0M441.8 104.1h0M452.7 122.6h0"/><path stroke="#f12176" d="M369.9 117.5h0M384.2 120.9h0M385.9 117.4h0M384.5 118.6h0"/><path stroke="#4585ff" d="M428.0 114.9h0M430.3 104.1h0M435.5 105.5h0M444.3 102.6h0M448.8 117.6h0M461.0 118.6h0"/><path stroke="#fb2062" d="M337.8 116.2h0M338.8 115.6h0M370.6 117.3h0M377.5 113.7h0"/><path stroke="#5a5bef" d="M405.0 125.1h0M416.7 114.9h0M427.2 116.2h0M426.4 109.4h0M427.0 126.7h0M428.9 122.7h0M435.1 133.8h0M474.5 116.2h0"/><path stroke="#e82282" d="M387.1 113.6h0M387.6 123.1h0M390.7 116.2h0"/><path stroke="#c020b0" d="M397.4 109.5h0M400.0 113.4h0M401.0 112.2h0M404.4 111.2h0"/><path stroke="#e42388" d="M374.9 114.0h0M378.2 117.3h0M389.3 108.9h0"/><path stroke="#da2395" d="M392.8 117.5h0M391.5 118.7h0"/><path stroke="#fd205d" d="M323.6 116.2h0M329.9 116.2h0M334.4 116.2h0M338.2 116.8h0M342.3 116.2h0M350.3 116.2h0M353.9 114.3h0M357.3 113.8h0M359.0 117.3h0M361.5 116.2h0"/><path stroke="#498eff" d="M434.0 131.0h0M439.7 112.1h0M439.1 102.6h0M443.5 110.7h0M443.6 130.3h0M443.9 118.9h0M447.6 109.2h0M450.4 104.9h0M452.5 107.2h0M453.3 104.6h0M455.8 110.1h0M474.9 116.7h0"/><path stroke="#4a90ff" d="M446.3 131.7h0M447.9 120.3h0M448.2 127.2h0M449.2 109.2h0M449.1 103.5h0M451.0 129.4h0M457.8 112.7h0M458.9 120.3h0M463.4 116.8h0M467.2 115.7h0M469.1 116.8h0"/><path stroke="#4d70f9" d="M426.0 116.2h0M425.9 121.4h0M431.1 116.2h0M434.9 112.2h0M433.2 128.3h0M433.6 129.7h0M436.2 120.3h0M440.3 97.4h0M446.4 126.0h0M452.1 107.0h0"/><path stroke="#8536cf" d="M397.6 120.2h0M406.1 116.2h0M407.5 105.8h0M412.0 125.5h0M413.2 118.7h0M415.5 113.6h0M418.6 125.7h0M429.6 109.5h0"/><path stroke="#c621a9" d="M375.6 117.5h0M392.7 122.5h0M393.5 116.2h0M396.5 120.4h0M395.1 121.8h0M402.9 113.5h0"/><path stroke="#8b32cb" d="M373.2 114.8h0M389.1 119.8h0M414.1 107.0h0M429.3 129.2h0M435.4 100.2h0M442.6 108.0h0"/><path stroke="#4789ff" d="M429.7 100.1h0M438.3 100.2h0M436.8 135.2h0M442.9 116.2h0M444.2 125.8h0M449.3 125.7h0M450.6 122.8h0M451.9 126.7h0M452.4 116.2h0M455.3 120.3h0M456.5 121.6h0M457.3 124.4h0"/><path stroke="#4687ff" d="M429.2 110.9h0M429.8 105.5h0M432.9 117.6h0M433.5 105.6h0M435.0 116.2h0M437.0 98.9h0M439.5 101.3h0M441.7 118.9h0M444.8 116.2h0M444.0 109.4h0M443.8 134.0h0M448.3 121.7h0M450.0 106.3h0M456.6 116.2h0"/><path stroke="#902dc6" d="M415.6 127.0h0M418.7 120.3h0"/><path stroke="#6a4ee4" d="M397.1 124.3h0M398.9 117.5h0M404.9 114.9h0M403.7 121.3h0M413.4 114.9h0M413.9 126.4h0M421.5 101.5h0M427.1 121.4h0M434.5 127.0h0M435.3 123.0h0M462.4 117.0h0"/><path stroke="#ed227c" d="M366.6 112.4h0M375.9 119.6h0M383.5 110.3h0M390.6 121.6h0M393.8 122.7h0M393.5 107.4h0"/><path stroke="#7a40d8" d="M399.7 120.2h0M405.6 120.4h0M421.7 119.0h0M425.6 102.1h0M430.2 119.0h0M430.6 120.3h0M431.8 131.3h0M436.7 105.6h0M438.1 133.8h0M440.5 108.2h0M453.6 125.2h0"/><path stroke="#cd22a2" d="M377.8 116.2h0M382.7 113.7h0M391.1 117.5h0M401.1 122.8h0"/><path stroke="#488cff" d="M448.6 112.0h0M451.5 125.4h0M452.0 130.7h0M455.1 114.9h0M457.0 117.6h0M466.5 116.7h0M468.1 115.5h0"/><path stroke="#487efd" d="M422.3 113.5h0M422.6 106.8h0M428.4 113.5h0M428.5 121.4h0M430.9 113.5h0M430.9 127.2h0M436.5 113.5h0M437.6 108.2h0M439.0 125.5h0M440.9 116.2h0M440.9 106.8h0M446.0 124.6h0M447.2 110.6h0M447.4 124.5h0M450.3 99.3h0"/><path stroke="#9e26be" d="M372.5 117.6h0M381.8 111.2h0M395.3 126.1h0M403.5 122.7h0M404.6 123.9h0M407.8 124.0h0M412.8 105.8h0M414.4 122.9h0M415.9 122.5h0"/><path stroke="#803bd4" d="M365.8 114.9h0M401.4 110.9h0M405.4 114.9h0M408.1 114.9h0M408.5 113.6h0M409.6 110.5h0M411.5 124.2h0M441.2 122.9h0M444.8 101.3h0M444.1 131.2h0"/><path stroke="#5a5bef" d="M418.4 104.1h0M422.8 121.8h0M425.3 109.1h0M426.3 118.8h0M433.9 104.2h0M436.6 121.6h0"/><path stroke="#ff2058" d="M330.9 115.9h0M335.4 115.7h0M341.7 115.5h0M347.9 115.5h0M351.8 118.7h0M354.2 116.2h0M359.7 115.2h0M385.4 116.2h0"/><path stroke="#f52070" d="M371.3 115.0h0"/><path stroke="#fb2062" d="M352.4 114.2h0M357.5 116.2h0M358.4 118.8h0M360.1 114.2h0M310.5 116.2h0"/><path stroke="#b822b4" d="M395.5 123.2h0M396.7 122.9h0M404.7 118.8h0M414.3 128.3h0"/><path stroke="#4a77fb" d="M407.6 111.0h0M410.3 120.3h0M421.9 114.9h0M434.7 116.2h0M437.9 101.6h0M438.5 124.2h0M441.3 100.1h0M445.4 112.2h0M449.8 121.7h0"/><path stroke="#a725bb" d="M390.1 114.9h0M406.4 123.1h0M412.7 122.5h0M417.1 113.6h0M417.2 121.2h0"/><path stroke="#5262f5" d="M413.5 125.1h0M413.6 103.2h0M423.8 103.7h0M424.2 102.3h0M424.7 99.3h0M426.5 130.6h0M429.1 105.5h0M428.4 126.6h0M428.6 101.5h0M430.5 125.9h0M432.3 113.5h0M432.2 132.7h0M443.3 99.8h0"/><path stroke="#7247de" d="M406.0 121.8h0M423.3 117.6h0M422.9 131.6h0M430.8 132.8h0M437.4 125.7h0"/><path stroke="#6254e9" d="M405.8 113.7h0M420.1 123.3h0M423.2 123.2h0M430.8 108.2h0M432.0 120.3h0M434.0 109.5h0M445.5 128.8h0"/><path stroke="#e0248e" d="M384.4 112.7h0M394.3 118.8h0"/><path stroke="#f92066" d="M362.1 112.9h0M379.7 112.5h0"/><path stroke="#f12176" d="M374.0 111.9h0M378.9 114.9h0M381.4 112.4h0M389.8 118.9h0"/><path stroke="#4f69f7" d="M421.8 109.5h0M421.3 105.5h0M425.4 114.8h0M432.3 127.2h0M436.0 131.1h0"/><path stroke="#af23b7" d="M402.8 108.0h0M408.4 108.4h0M409.4 123.0h0M416.0 117.5h0"/><path stroke="#f7206b" d="M364.7 112.6h0M371.7 113.8h0M385.2 113.4h0M387.3 116.2h0M387.7 117.6h0M388.3 117.4h0"/><path stroke="#d3229c" d="M391.9 120.0h0M396.0 119.0h0M397.5 114.9h0"/><path stroke="#4585ff" d="M421.0 128.7h0M423.5 110.6h0M425.7 131.8h0M427.6 99.9h0M436.4 108.2h0M441.4 134.8h0M445.3 105.4h0M446.9 121.8h0M447.5 103.7h0M449.2 131.2h0M451.2 104.4h0M455.0 109.8h0"/><path stroke="#9628c2" d="M409.5 117.6h0M409.5 104.9h0M410.8 116.2h0M416.7 125.0h0"/><path stroke="#a725bb" d="M416.7 172.4h0M420.5 169.2h0M419.5 167.2h0M419.0 178.4h0"/><path stroke="#f52070" d="M403.7 152.3h0"/><path stroke="#902dc6" d="M419.3 171.6h0M418.4 169.0h0"/><path stroke="#4789ff" d="M450.4 170.1h0M458.0 169.1h0M458.6 168.3h0"/><path stroke="#e82282" d="M398.7 172.1h0M403.9 176.0h0M401.8 181.3h0M409.2 170.8h0M408.9 169.1h0M411.9 169.0h0"/><path stroke="#f7206b" d="M393.0 171.1h0M397.1 171.7h0M400.5 159.3h0"/><path stroke="#488cff" d="M440.0 171.6h0M450.1 172.3h0M451.6 170.8h0M454.2 172.4h0M458.4 170.8h0M464.3 172.4h0M465.7 168.3h0M559.5 170.8h0"/><path stroke="#498eff" d="M442.4 168.8h0M449.0 170.8h0M461.0 171.7h0M459.8 173.4h0M484.5 170.3h0M489.9 170.5h0M561.4 170.8h0M565.5 170.8h0M581.1 170.8h0M585.5 169.9h0"/><path stroke="#7247de" d="M424.9 170.8h0"/><path stroke="#4a90ff" d="M447.6 170.8h0M446.4 172.2h0M452.6 172.3h0M457.4 170.8h0M455.6 171.6h0M457.5 170.0h0M457.7 173.3h0M472.9 170.0h0M479.9 169.7h0M571.6 170.8h0"/><path stroke="#f12176" d="M400.1 168.8h0M400.4 172.7h0"/><path stroke="#487efd" d="M435.6 170.8h0M432.2 166.2h0"/><path stroke="#4585ff" d="M433.5 171.7h0M434.7 170.0h0M441.0 173.2h0"/><path stroke="#fd205d" d="M366.8 170.8h0M373.3 170.8h0M378.3 171.0h0M392.4 170.8h0M401.4 173.4h0M403.5 183.0h0M400.8 183.9h0"/><path stroke="#c621a9" d="M414.0 161.7h0"/><path stroke="#da2395" d="M404.3 169.9h0M402.9 178.7h0M403.3 186.5h0M407.3 175.0h0M407.9 175.8h0M412.7 175.3h0M413.8 177.2h0M412.9 163.5h0M412.4 182.6h0"/><path stroke="#5262f5" d="M430.7 165.3h0"/><path stroke="#8536cf" d="M419.6 172.4h0M481.7 171.4h0"/><path stroke="#fb2062" d="M380.1 171.0h0M396.6 170.8h0"/><path stroke="#803bd4" d="M422.7 170.8h0"/><path stroke="#e0248e" d="M398.1 171.5h0"/><path stroke="#e42388" d="M403.1 190.0h0"/><path stroke="#c020b0" d="M400.9 166.4h0M413.0 183.5h0"/><path stroke="#ff2058" d="M377.8 170.8h0M396.8 168.2h0M402.5 185.6h0"/><path stroke="#ed227c" d="M395.7 171.5h0M399.5 169.5h0M406.9 172.6h0M403.1 175.2h0"/><path stroke="#8b32cb" d="M416.2 169.1h0M419.0 168.1h0M418.6 174.2h0"/><path stroke="#4d70f9" d="M432.4 177.0h0"/><path stroke="#9e26be" d="M419.1 171.6h0"/><path stroke="#5a5bef" d="M422.4 169.3h0"/><path stroke="#b822b4" d="M407.8 169.0h0M413.2 172.5h0M414.8 171.6h0"/><path stroke="#cd22a2" d="M401.4 188.3h0M408.0 172.5h0M412.4 164.5h0"/><path stroke="#4a77fb" d="M430.9 177.9h0"/><path stroke="#4687ff" d="M433.1 168.2h0M436.1 171.6h0M445.2 170.1h0M467.2 170.0h0M474.3 168.7h0M480.2 170.2h0"/><path stroke="#9628c2" d="M418.1 173.3h0M418.5 177.6h0"/><path stroke="#6a4ee4" d="M427.4 170.8h0"/><path stroke="#d3229c" d="M412.5 168.1h0"/><path stroke="#4789ff" d="M436.3 167.6h0M437.2 172.6h0M444.0 168.8h0M449.5 171.5h0M450.9 173.1h0M454.7 173.2h0M464.8 173.3h0M470.8 170.0h0M574.7 170.8h0"/><path stroke="#487efd" d="M432.1 162.6h0"/><path stroke="#6a4ee4" d="M425.7 171.6h0M430.5 170.1h0"/><path stroke="#4f69f7" d="M425.4 171.6h0M431.0 169.5h0"/><path stroke="#f52070" d="M399.0 170.1h0M401.6 170.8h0M407.3 169.9h0"/><path stroke="#902dc6" d="M418.5 171.6h0"/><path stroke="#4585ff" d="M434.0 172.5h0M438.4 170.8h0"/><path stroke="#f12176" d="M403.2 160.2h0"/><path stroke="#7a40d8" d="M424.0 170.1h0"/><path stroke="#e0248e" d="M405.8 170.8h0M413.4 172.6h0M413.8 158.1h0"/><path stroke="#9628c2" d="M385.4 170.6h0M389.0 170.8h0M420.0 166.3h0M419.2 175.0h0"/><path stroke="#c020b0" d="M412.3 170.8h0M412.8 159.9h0"/><path stroke="#488cff" d="M438.0 169.1h0M437.7 173.4h0M440.8 170.0h0M462.1 171.6h0M465.5 170.8h0M475.5 170.1h0M493.2 170.5h0M548.7 170.8h0"/><path stroke="#4d70f9" d="M430.1 172.1h0M431.5 171.7h0M431.7 167.2h0M430.6 161.7h0"/><path stroke="#b822b4" d="M405.5 169.0h0M411.5 170.8h0"/><path stroke="#4687ff" d="M440.5 172.4h0M448.7 169.3h0M460.6 168.2h0"/><path stroke="#498eff" d="M438.2 174.3h0M451.8 168.5h0M463.8 170.8h0M466.9 172.4h0M472.5 172.4h0M519.2 170.8h0M572.4 170.8h0M576.9 170.8h0M588.0 170.8h0"/><path stroke="#ff2058" d="M370.6 170.8h0M407.5 171.6h0"/><path stroke="#4a90ff" d="M447.3 169.4h0M447.8 168.7h0M456.5 170.0h0M456.2 172.4h0M470.4 172.4h0M471.0 173.2h0M472.0 171.6h0M473.7 169.4h0M479.0 171.9h0M483.1 170.8h0M488.5 170.8h0M540.6 170.8h0M563.6 170.8h0M578.7 169.9h0M586.9 170.8h0"/><path stroke="#7247de" d="M429.6 170.8h0"/><path stroke="#f7206b" d="M409.1 174.1h0"/><path stroke="#9e26be" d="M415.4 172.5h0M418.2 161.7h0"/><path stroke="#fd205d" d="M390.0 170.8h0M403.3 171.7h0M408.2 166.6h0"/><path stroke="#da2395" d="M413.7 169.9h0M412.0 178.1h0"/><path stroke="#ed227c" d="M401.5 162.0h0M401.0 180.4h0"/><path stroke="#f92066" d="M402.8 153.2h0"/><path stroke="#e82282" d="M399.2 172.8h0M402.2 171.8h0M401.7 165.5h0M403.4 163.7h0M401.6 184.8h0M412.8 171.7h0M413.9 173.5h0M413.3 159.0h0"/><path stroke="#a725bb" d="M389.1 170.5h0M415.7 170.0h0M417.0 170.0h0M420.1 180.1h0"/><path stroke="#5a5bef" d="M435.8 168.4h0"/><path stroke="#4a77fb" d="M432.9 170.8h0M432.6 169.1h0M431.6 163.5h0"/><path stroke="#fb2062" d="M373.0 170.8h0"/><path stroke="#c621a9" d="M409.7 171.7h0M413.2 176.2h0"/><path stroke="#4687ff" d="M439.4 170.8h0M450.7 170.0h0M461.8 169.9h0"/><path stroke="#9e26be" d="M381.8 170.8h0M383.5 171.0h0M418.4 181.0h0M418.9 181.8h0"/><path stroke="#5262f5" d="M426.6 170.1h0M429.3 169.3h0"/><path stroke="#ff2058" d="M390.5 171.1h0"/><path stroke="#cd22a2" d="M400.8 169.8h0M404.0 172.7h0M405.0 169.9h0M408.1 170.8h0M402.8 168.2h0M412.2 174.4h0M414.1 165.4h0"/><path stroke="#c020b0" d="M408.7 171.7h0M411.1 169.1h0M412.1 157.2h0"/><path stroke="#e82282" d="M402.2 157.6h0M401.1 154.9h0M400.9 151.4h0"/><path stroke="#c621a9" d="M404.8 168.9h0M400.7 162.9h0M407.7 167.5h0M413.1 179.9h0"/><path stroke="#4a77fb" d="M432.0 172.6h0M432.5 173.5h0M431.9 176.1h0M431.1 164.4h0"/><path stroke="#7a40d8" d="M423.7 172.3h0M419.7 175.9h0"/><path stroke="#488cff" d="M453.1 170.8h0M454.5 170.0h0M466.0 171.6h0M570.9 169.9h0"/><path stroke="#e42388" d="M401.3 168.9h0"/><path stroke="#f52070" d="M400.5 172.5h0M402.0 177.8h0"/><path stroke="#fb2062" d="M399.9 170.8h0"/><path stroke="#f7206b" d="M395.9 173.4h0M402.4 170.8h0M400.6 187.4h0"/><path stroke="#902dc6" d="M387.2 171.0h0M414.0 169.1h0M418.8 164.4h0M419.9 162.6h0M419.2 159.9h0"/><path stroke="#f12176" d="M403.9 155.8h0"/><path stroke="#af23b7" d="M409.2 172.6h0M414.3 170.8h0"/><path stroke="#ed227c" d="M398.0 169.9h0M402.2 174.3h0M402.3 189.1h0M413.0 167.2h0"/><path stroke="#da2395" d="M413.6 166.3h0"/><path stroke="#4f69f7" d="M431.9 171.5h0"/><path stroke="#4a90ff" d="M443.2 172.1h0M444.9 172.2h0M452.1 171.6h0M462.6 172.5h0M473.1 173.1h0M485.0 171.2h0M491.3 171.1h0"/><path stroke="#b822b4" d="M413.5 169.9h0"/><path stroke="#a725bb" d="M381.0 170.6h0M419.4 163.5h0"/><path stroke="#9628c2" d="M384.5 171.0h0M388.1 170.6h0M421.0 171.6h0M421.5 172.3h0"/><path stroke="#d3229c" d="M402.9 170.8h0M406.4 171.7h0M409.4 168.3h0"/><path stroke="#fd205d" d="M375.7 170.8h0"/><path stroke="#4789ff" d="M436.6 172.4h0M437.5 169.9h0M443.8 170.8h0M459.5 172.5h0M469.4 170.8h0M469.9 171.6h0M491.8 170.8h0M584.1 170.8h0"/><path stroke="#4d70f9" d="M431.3 170.8h0M431.1 170.8h0M431.3 168.1h0M431.8 179.7h0"/><path stroke="#e0248e" d="M403.7 179.5h0"/><path stroke="#5a5bef" d="M424.6 169.3h0M427.1 169.3h0M426.2 172.3h0"/><path stroke="#487efd" d="M431.5 168.8h0M434.3 169.9h0M435.2 169.2h0"/><path stroke="#498eff" d="M441.4 169.2h0M439.6 168.4h0M449.2 168.6h0M464.0 168.3h0M463.1 173.3h0M468.1 170.8h0M468.6 171.6h0M468.3 168.4h0M477.0 171.6h0M479.3 170.3h0M487.6 170.4h0M500.6 170.8h0M556.6 170.8h0M568.0 170.8h0M580.0 170.8h0M581.5 169.9h0"/><path stroke="#4585ff" d="M463.5 169.1h0"/><path stroke="#488cff" d="M438.6 168.2h0M444.3 171.5h0M448.3 173.0h0M453.3 168.4h0M460.4 170.8h0M476.2 169.2h0M486.7 170.8h0M490.8 170.8h0M508.5 170.8h0"/><path stroke="#fd205d" d="M366.0 170.8h0M391.5 170.5h0M396.2 169.1h0"/><path stroke="#fb2062" d="M360.2 170.8h0M361.7 170.8h0"/><path stroke="#8536cf" d="M481.1 170.8h0"/><path stroke="#4a77fb" d="M427.9 171.6h0M441.5 172.8h0M432.3 169.9h0M431.0 174.4h0M431.4 175.2h0"/><path stroke="#c020b0" d="M412.1 170.8h0"/><path stroke="#5a5bef" d="M428.8 170.1h0"/><path stroke="#da2395" d="M401.1 169.9h0M408.5 173.3h0"/><path stroke="#e0248e" d="M412.2 160.8h0"/><path stroke="#8b32cb" d="M418.0 176.7h0"/><path stroke="#4d70f9" d="M430.7 172.8h0"/><path stroke="#498eff" d="M435.4 174.0h0M442.2 170.8h0M443.6 170.1h0M448.1 171.5h0M446.9 172.9h0M451.2 169.3h0M460.1 169.1h0M465.2 169.2h0M469.6 168.4h0M471.1 169.2h0M471.7 168.5h0M475.1 172.2h0M477.9 170.0h0M478.5 171.3h0M489.0 171.2h0M492.3 171.1h0M522.8 170.8h0"/><path stroke="#7a40d8" d="M417.9 170.8h0"/><path stroke="#e82282" d="M402.6 164.6h0M401.3 158.5h0M408.3 170.0h0M413.4 162.6h0"/><path stroke="#902dc6" d="M384.4 170.6h0M420.0 170.0h0M421.9 170.0h0"/><path stroke="#4789ff" d="M434.6 173.4h0M442.7 171.5h0M453.7 171.6h0M457.1 169.2h0M467.7 169.2h0M471.5 170.8h0M476.5 170.8h0M477.6 172.4h0"/><path stroke="#f52070" d="M403.4 171.7h0M403.0 156.7h0M402.0 154.0h0"/><path stroke="#9628c2" d="M418.7 170.8h0M417.9 169.9h0"/><path stroke="#4a90ff" d="M439.1 167.3h0M445.8 169.4h0M445.4 172.8h0M446.7 170.1h0M455.1 169.2h0M455.3 168.4h0M456.7 173.2h0M458.9 171.6h0M461.5 172.5h0M462.9 170.0h0M467.4 173.2h0M469.0 169.2h0M474.1 170.8h0M474.6 171.5h0M473.4 172.9h0M477.9 170.8h0M483.6 171.3h0M485.8 170.4h0M530.3 170.8h0M537.5 170.8h0M572.5 169.9h0"/><path stroke="#e42388" d="M397.6 172.5h0M411.9 181.7h0"/><path stroke="#d3229c" d="M410.3 172.5h0M402.7 182.1h0M413.6 180.8h0"/><path stroke="#af23b7" d="M410.6 169.9h0M419.8 172.5h0"/><path stroke="#ed227c" d="M402.4 161.1h0"/><path stroke="#f92066" d="M379.2 170.6h0M401.2 176.9h0"/><path stroke="#cd22a2" d="M412.6 179.0h0"/><path stroke="#a725bb" d="M419.6 179.3h0M418.7 160.8h0"/><path stroke="#9e26be" d="M382.9 170.8h0M386.3 170.8h0M412.6 171.7h0M417.6 169.2h0M420.8 170.8h0M418.3 165.4h0M419.8 159.0h0"/><path stroke="#ff2058" d="M395.2 170.8h0M401.9 169.0h0"/><path stroke="#f12176" d="M394.3 170.1h0"/><path stroke="#4687ff" d="M441.8 169.5h0M464.6 170.0h0"/><path stroke="#487efd" d="M430.8 169.0h0M431.3 178.8h0"/><path stroke="#f7206b" d="M403.6 167.3h0M408.7 165.8h0"/><path stroke="#5262f5" d="M428.4 172.3h0"/><path stroke="#4585ff" d="M434.9 173.2h0M438.9 171.7h0"/><path stroke="#8437d0" d="M481.4 171.2h0"/><path stroke="#4d70f9" d="M458.0 170.5h0"/><path stroke="#4f6af7" d="M463.5 172.5h0"/><path stroke="#7a40d8" d="M412.6 230.2h0M414.6 227.0h0M415.2 235.9h0M416.1 234.8h0M418.6 216.4h0"/><path stroke="#b822b4" d="M386.5 224.4h0M387.7 223.1h0M399.4 219.4h0"/><path stroke="#fb2062" d="M397.6 225.4h0M397.7 221.4h0M398.7 229.9h0M404.1 234.3h0M406.9 242.6h0M413.0 239.4h0M415.2 223.9h0"/><path stroke="#487efd" d="M421.0 212.7h0M422.8 225.4h0M431.9 216.6h0M432.8 217.9h0M434.3 226.9h0M436.6 231.5h0M437.3 229.7h0M438.7 225.4h0M440.6 225.4h0M452.3 226.3h0"/><path stroke="#4a77fb" d="M419.4 212.9h0M420.1 237.9h0M441.1 228.6h0"/><path stroke="#498eff" d="M419.8 223.8h0M425.8 224.0h0M426.6 228.6h0M427.0 215.9h0M427.6 229.9h0M429.8 216.9h0M431.4 233.9h0M433.7 223.9h0M443.5 228.0h0M450.7 226.5h0"/><path stroke="#4585ff" d="M422.5 219.1h0M424.1 222.4h0M425.8 235.5h0M426.0 231.7h0M429.4 228.2h0M431.3 219.7h0M430.8 216.9h0M434.5 234.3h0M435.2 233.6h0M436.5 222.3h0M437.6 231.1h0M437.0 234.0h0"/><path stroke="#4687ff" d="M424.2 231.4h0M426.2 220.7h0M426.7 217.5h0M427.7 216.3h0M433.9 222.4h0M435.1 220.5h0M436.9 226.9h0M436.0 234.6h0M437.8 232.5h0M440.9 227.0h0M442.0 228.3h0M444.9 226.8h0M446.7 223.0h0M448.7 228.2h0"/><path stroke="#4f69f7" d="M402.3 217.5h0M405.2 226.9h0M409.9 217.6h0M412.3 210.9h0M415.3 229.9h0M418.7 222.4h0M420.2 214.5h0M433.2 231.4h0M438.5 222.3h0"/><path stroke="#af23b7" d="M391.0 225.4h0M392.2 225.4h0M400.5 227.0h0M401.4 226.9h0M401.9 233.3h0M405.4 228.5h0M405.7 210.1h0"/><path stroke="#902dc6" d="M388.7 227.9h0M406.0 225.4h0M409.4 233.2h0M408.8 242.5h0M414.3 238.3h0"/><path stroke="#6a4ee4" d="M396.8 225.4h0M408.7 211.5h0M411.3 242.0h0M414.9 210.9h0M424.0 216.4h0"/><path stroke="#8b32cb" d="M404.4 229.8h0M406.3 239.5h0M407.6 225.4h0M407.6 208.6h0M411.3 217.9h0M412.4 217.3h0M411.7 238.3h0M413.6 230.1h0M416.5 216.0h0"/><path stroke="#488cff" d="M431.1 221.2h0M434.0 231.4h0M436.1 228.5h0M437.9 226.8h0M441.3 223.8h0M440.5 222.2h0M443.2 226.7h0M442.7 229.3h0M447.3 222.2h0M449.2 224.2h0M451.9 223.5h0M461.4 224.9h0M468.8 225.4h0"/><path stroke="#c020b0" d="M386.3 224.5h0M385.8 226.3h0M396.2 226.8h0M404.8 225.4h0"/><path stroke="#f92066" d="M397.9 226.7h0M406.7 234.8h0M408.6 228.5h0M410.5 220.7h0M413.7 209.8h0"/><path stroke="#4a90ff" d="M424.6 219.4h0M426.8 223.8h0M433.8 229.9h0M437.1 218.3h0M443.1 221.5h0M448.0 222.6h0M454.8 224.3h0M455.5 226.5h0M459.7 225.9h0M465.1 224.9h0M468.0 225.8h0M486.6 225.4h0"/><path stroke="#a725bb" d="M404.0 219.5h0M404.7 231.3h0M404.4 235.8h0M411.7 231.8h0"/><path stroke="#7247de" d="M407.4 216.2h0M412.6 209.3h0M413.8 222.3h0M414.7 212.5h0M415.5 231.4h0M416.3 217.6h0M418.8 231.4h0M433.3 225.4h0"/><path stroke="#4d70f9" d="M420.2 225.4h0M421.1 219.0h0M422.4 233.3h0M425.1 231.2h0M426.4 227.0h0M427.9 225.4h0M431.5 234.2h0M433.1 216.4h0M434.3 232.8h0"/><path stroke="#c621a9" d="M396.4 223.8h0"/><path stroke="#9628c2" d="M395.3 228.2h0M397.6 230.7h0M401.3 233.0h0M404.3 218.0h0M410.0 230.1h0M409.7 234.8h0M410.7 214.8h0M412.5 236.7h0M416.4 230.1h0"/><path stroke="#5a5bef" d="M406.9 236.4h0M410.8 239.0h0M414.3 231.9h0M416.6 222.3h0M422.3 220.7h0"/><path stroke="#803bd4" d="M407.9 207.0h0M409.3 214.6h0M410.4 214.4h0M410.5 239.5h0M415.4 216.4h0M416.8 225.4h0"/><path stroke="#6254e9" d="M412.1 212.5h0M416.0 219.4h0M417.3 216.4h0M417.6 214.9h0M426.9 230.1h0"/><path stroke="#fd205d" d="M380.4 225.4h0M394.9 225.4h0M407.1 222.3h0"/><path stroke="#ff2058" d="M378.7 225.4h0M380.7 225.7h0M401.2 225.4h0M404.8 215.0h0M407.0 230.1h0"/><path stroke="#9e26be" d="M392.5 227.0h0M396.9 220.7h0M399.9 230.3h0M400.6 218.8h0M403.9 228.7h0M405.3 219.3h0M405.3 240.7h0M406.5 212.9h0"/><path stroke="#4789ff" d="M419.9 230.1h0M422.1 231.7h0M424.4 232.9h0M430.1 221.2h0M432.5 219.6h0M433.1 222.4h0M437.4 216.8h0M438.9 233.2h0M441.7 226.8h0M441.4 231.1h0M442.6 224.1h0M444.3 230.0h0M448.9 224.0h0M448.4 226.8h0M449.8 226.6h0M452.5 225.4h0"/><path stroke="#8536cf" d="M398.9 222.4h0M402.2 228.6h0M403.6 227.0h0M404.0 213.5h0M408.4 227.0h0M409.9 242.6h0M410.7 208.8h0M411.9 220.6h0M415.0 228.4h0"/><path stroke="#5262f5" d="M415.7 238.9h0M431.2 232.5h0"/><path stroke="#fd205d" d="M376.9 225.4h0M392.0 222.2h0M398.3 224.1h0M408.2 228.5h0"/><path stroke="#488cff" d="M419.1 213.4h0M424.2 225.4h0M427.3 234.5h0M429.9 231.1h0M438.6 231.7h0M444.6 225.4h0M452.0 225.4h0M456.5 225.4h0M456.0 224.5h0M460.4 224.9h0M472.1 225.0h0M484.1 225.4h0"/><path stroke="#b822b4" d="M391.7 223.9h0M399.8 223.8h0M401.0 222.4h0M406.1 239.2h0M407.1 216.0h0M409.0 216.1h0"/><path stroke="#5a5bef" d="M411.2 228.4h0M414.5 239.9h0M416.7 231.7h0M416.6 237.9h0M418.2 217.9h0M418.4 223.9h0M419.3 234.4h0M419.8 236.3h0M423.1 219.2h0"/><path stroke="#7a40d8" d="M398.0 220.1h0M407.5 243.8h0M410.7 225.4h0M412.7 215.7h0M414.5 220.6h0M424.9 216.8h0"/><path stroke="#7247de" d="M381.0 224.8h0M402.8 225.4h0M408.0 240.7h0M409.8 228.5h0M411.4 223.9h0M410.6 237.5h0M420.8 220.6h0"/><path stroke="#9e26be" d="M383.7 226.6h0M387.5 224.3h0M394.4 228.0h0M410.1 216.0h0"/><path stroke="#fb2062" d="M393.5 223.0h0M408.4 213.0h0M411.0 213.3h0M413.1 233.2h0"/><path stroke="#d3229c" d="M394.6 229.2h0"/><path stroke="#5262f5" d="M411.1 234.4h0M417.0 227.0h0M429.8 222.6h0"/><path stroke="#803bd4" d="M384.1 224.2h0M400.1 222.1h0M403.6 233.6h0M405.8 222.3h0M409.8 211.3h0M411.8 225.4h0M417.0 233.2h0M417.8 213.3h0"/><path stroke="#cd22a2" d="M385.2 227.0h0M386.7 223.3h0"/><path stroke="#a725bb" d="M385.4 223.5h0M392.9 223.8h0M403.8 235.2h0M406.9 223.8h0M407.8 233.0h0M414.9 228.6h0"/><path stroke="#f92066" d="M399.3 226.9h0M400.8 230.0h0M408.1 234.6h0M411.4 236.0h0"/><path stroke="#4d70f9" d="M420.7 214.3h0M422.2 225.4h0M424.8 217.9h0M425.3 232.6h0M432.9 223.9h0M433.5 232.9h0"/><path stroke="#902dc6" d="M396.3 228.6h0M404.2 228.4h0M407.2 237.9h0M409.3 220.8h0M411.8 214.1h0M413.3 234.7h0"/><path stroke="#4687ff" d="M421.8 230.1h0M422.6 234.9h0M422.2 214.4h0M421.8 236.4h0M423.9 229.9h0M424.1 237.4h0M432.1 225.4h0M432.4 226.9h0M434.1 215.0h0M436.3 230.0h0M442.8 222.8h0M443.7 226.9h0M444.0 228.5h0M455.2 225.4h0M459.0 224.9h0"/><path stroke="#8b32cb" d="M388.4 227.7h0M388.9 224.2h0M395.0 221.6h0M402.1 219.1h0M407.0 209.7h0M407.3 236.1h0M409.0 244.0h0M410.2 222.3h0M412.2 235.1h0M413.0 220.7h0M412.9 214.5h0"/><path stroke="#6a4ee4" d="M403.0 223.8h0M416.2 228.5h0"/><path stroke="#6254e9" d="M413.2 213.0h0M414.4 214.1h0M417.6 220.9h0M418.0 234.4h0M418.3 217.9h0M421.3 217.5h0M422.8 214.5h0"/><path stroke="#4585ff" d="M419.1 226.9h0M419.4 219.2h0M421.6 228.6h0M423.1 212.9h0M425.1 225.4h0M427.4 217.8h0M433.0 229.9h0M434.4 219.4h0M438.1 228.5h0M438.8 220.7h0M444.2 223.9h0M443.6 220.8h0M447.7 227.0h0"/><path stroke="#4a77fb" d="M422.7 231.6h0M423.5 236.3h0M426.6 234.9h0M430.3 226.8h0M433.4 220.9h0M435.7 223.8h0M435.5 235.2h0M439.2 221.2h0M440.7 220.6h0"/><path stroke="#ed227c" d="M387.1 226.4h0"/><path stroke="#ff2058" d="M386.1 227.3h0M410.2 237.9h0"/><path stroke="#498eff" d="M428.5 219.6h0M439.9 229.6h0M444.4 222.3h0M447.5 225.4h0M461.9 225.4h0M463.9 225.4h0M468.4 225.0h0M469.9 225.4h0M470.9 225.4h0M470.0 225.8h0"/><path stroke="#8536cf" d="M389.8 225.4h0M403.2 215.6h0M406.1 220.8h0M407.5 222.3h0M411.6 222.4h0M412.1 219.0h0M417.2 235.9h0"/><path stroke="#487efd" d="M419.6 228.5h0M428.0 220.9h0M430.7 229.6h0M433.6 219.4h0M434.8 215.6h0M440.3 230.2h0"/><path stroke="#4a90ff" d="M422.4 227.0h0M421.7 217.5h0M428.4 226.8h0M428.8 218.2h0M431.5 228.3h0M431.8 229.8h0M434.2 220.9h0M439.8 224.0h0M441.4 225.4h0M445.4 229.5h0M446.0 226.6h0M451.6 224.5h0M454.3 226.8h0M466.1 225.4h0M466.8 225.8h0"/><path stroke="#c621a9" d="M415.8 232.9h0"/><path stroke="#9628c2" d="M382.6 225.4h0M394.1 226.7h0M397.1 227.0h0M402.0 227.0h0M403.4 225.4h0M404.6 222.4h0M404.9 221.0h0M406.0 214.7h0M406.6 219.1h0M408.3 223.9h0"/><path stroke="#c020b0" d="M382.2 224.5h0M400.2 225.4h0M402.5 230.2h0M402.8 231.7h0M403.4 214.0h0M414.4 225.4h0"/><path stroke="#4789ff" d="M421.4 236.5h0M423.7 216.0h0M428.3 232.6h0M428.2 215.3h0M430.0 225.4h0M429.3 219.7h0M432.1 215.2h0M435.6 217.2h0M436.2 223.9h0M437.0 228.3h0M438.3 223.8h0M454.0 225.4h0M461.1 225.9h0M471.4 225.4h0"/><path stroke="#4f69f7" d="M420.6 231.8h0M423.4 217.6h0"/><path stroke="#af23b7" d="M397.5 222.7h0M399.0 231.4h0M406.2 214.4h0"/><path stroke="#487efd" d="M419.7 217.6h0M424.5 226.9h0M425.5 219.6h0M429.5 218.3h0M432.9 235.9h0M441.8 219.7h0"/><path stroke="#f92066" d="M383.4 225.4h0M389.6 226.6h0M402.2 234.9h0"/><path stroke="#4585ff" d="M417.7 232.9h0M421.0 227.0h0M423.2 234.8h0M426.5 219.1h0M428.9 229.7h0M430.4 228.2h0M435.3 227.0h0M437.5 222.5h0M439.3 226.8h0M445.2 228.1h0M450.1 227.9h0M450.4 225.4h0"/><path stroke="#488cff" d="M420.3 220.7h0M423.6 230.1h0M428.7 228.3h0M433.5 226.9h0M445.3 224.0h0M451.1 224.3h0M453.6 224.0h0M462.1 225.9h0M467.6 225.4h0"/><path stroke="#9e26be" d="M382.9 226.3h0M398.6 223.9h0M408.9 209.9h0M411.5 229.9h0M411.5 210.3h0M412.3 228.6h0"/><path stroke="#8b32cb" d="M391.3 226.9h0M408.7 217.7h0M410.3 208.2h0M411.6 216.4h0M416.8 214.5h0"/><path stroke="#cd22a2" d="M387.9 225.4h0"/><path stroke="#4d70f9" d="M417.4 222.4h0M420.6 238.1h0M425.2 221.1h0M425.9 229.7h0M427.3 228.4h0M427.5 236.0h0M430.8 222.6h0M433.3 214.9h0M435.4 218.9h0M434.9 231.9h0"/><path stroke="#4a90ff" d="M428.0 214.8h0M436.7 225.4h0M439.1 219.1h0M442.4 222.5h0M443.0 225.4h0M442.9 230.6h0M445.8 221.8h0M449.6 225.4h0M453.1 223.8h0M457.9 225.4h0M458.1 226.0h0M460.8 225.4h0M464.2 225.9h0M470.5 225.0h0M480.8 225.4h0M482.7 225.4h0"/><path stroke="#4f69f7" d="M405.9 237.6h0M420.0 222.3h0M421.5 230.2h0M425.7 218.2h0M425.2 215.3h0M429.7 229.6h0M434.6 228.4h0M457.7 225.4h0"/><path stroke="#5a5bef" d="M410.3 231.7h0M433.7 235.8h0"/><path stroke="#4687ff" d="M420.9 233.3h0M421.7 223.8h0M427.8 222.4h0M428.2 221.1h0M429.6 224.0h0M431.3 226.8h0M432.6 234.4h0M435.8 230.3h0M437.7 221.1h0M439.0 227.0h0M442.1 224.0h0M452.7 227.0h0M463.1 225.9h0"/><path stroke="#498eff" d="M424.3 220.9h0M425.0 236.9h0M434.1 225.4h0M440.0 222.6h0M442.2 229.7h0M445.6 222.7h0M451.0 227.5h0M451.5 227.3h0M462.4 224.9h0M484.9 225.4h0"/><path stroke="#b822b4" d="M393.2 224.2h0M406.8 211.3h0M407.9 213.2h0"/><path stroke="#4a77fb" d="M419.0 232.9h0M420.4 227.0h0M420.1 231.6h0M421.2 228.6h0M429.2 225.4h0M429.6 235.3h0M431.0 225.4h0M432.2 221.0h0M431.6 218.1h0M459.4 225.4h0"/><path stroke="#902dc6" d="M403.0 236.8h0M405.1 233.0h0M409.2 208.3h0M410.6 231.4h0M410.9 232.9h0M413.2 241.0h0M414.0 223.8h0M414.1 230.2h0"/><path stroke="#8536cf" d="M390.8 222.5h0M394.8 222.8h0M402.9 217.2h0M409.1 222.3h0M410.8 220.9h0M412.2 241.5h0"/><path stroke="#af23b7" d="M401.5 219.3h0M408.8 223.8h0M413.7 216.1h0M415.9 213.4h0"/><path stroke="#9628c2" d="M390.3 228.1h0M401.2 220.8h0M403.3 231.9h0M405.8 216.2h0M405.4 234.6h0M411.0 219.4h0M412.0 233.5h0M413.6 236.3h0"/><path stroke="#6254e9" d="M406.2 225.4h0M412.8 231.6h0M415.6 225.4h0M415.1 217.9h0M417.5 225.4h0M417.2 229.9h0M418.9 220.9h0"/><path stroke="#a725bb" d="M408.5 219.2h0M409.1 237.8h0M411.9 239.9h0"/><path stroke="#803bd4" d="M404.2 212.1h0M406.7 228.5h0M407.7 220.8h0M407.5 237.6h0M408.5 240.9h0M410.0 236.4h0M415.7 220.9h0"/><path stroke="#5262f5" d="M427.0 222.2h0M426.8 236.4h0M433.9 216.5h0M436.8 220.8h0"/><path stroke="#fb2062" d="M400.7 217.8h0M410.4 225.4h0M409.5 227.0h0"/><path stroke="#da2395" d="M385.0 225.4h0"/><path stroke="#ff2058" d="M388.1 226.5h0M393.9 226.6h0M396.5 230.1h0M405.2 213.2h0M409.4 239.3h0"/><path stroke="#fd205d" d="M392.7 228.6h0M401.7 228.4h0M402.6 215.9h0M403.5 220.5h0M418.1 228.4h0"/><path stroke="#c020b0" d="M400.2 232.0h0M406.4 233.2h0"/><path stroke="#7a40d8" d="M401.1 231.5h0M405.0 226.9h0M407.2 231.7h0M407.8 239.2h0M407.4 210.1h0M408.6 234.7h0M409.5 233.2h0M412.0 227.0h0M413.8 237.8h0M414.6 233.5h0M417.5 231.4h0M418.8 225.4h0M418.5 229.9h0"/><path stroke="#6a4ee4" d="M410.1 209.7h0M415.0 234.4h0M422.9 220.7h0"/><path stroke="#c621a9" d="M387.4 227.5h0"/><path stroke="#7247de" d="M398.5 228.4h0M408.9 230.1h0M414.7 218.9h0"/><path stroke="#4789ff" d="M422.0 222.2h0M423.5 223.8h0M423.7 222.3h0M427.9 231.4h0M434.8 222.1h0M435.5 228.7h0M436.4 216.2h0M438.0 219.7h0M438.4 230.1h0M439.4 219.7h0M440.1 231.1h0M439.7 218.3h0M450.3 223.3h0M467.2 225.0h0"/><path stroke="#8b32cb" d="M389.1 222.9h0M389.7 222.7h0M393.3 228.9h0M394.5 224.1h0M400.3 220.5h0M404.4 223.9h0M405.6 236.1h0M408.3 242.2h0"/><path stroke="#e0248e" d="M402.4 223.8h0"/><path stroke="#4d70f9" d="M421.9 215.9h0M422.0 238.0h0M423.0 227.0h0M422.7 237.9h0M435.0 225.4h0M439.3 232.5h0M443.3 220.2h0"/><path stroke="#4687ff" d="M420.7 225.4h0M423.0 233.2h0M424.7 228.4h0M425.4 226.8h0M425.4 213.9h0M426.3 233.3h0M428.9 235.5h0M430.9 231.1h0M431.0 215.5h0M439.6 228.2h0M446.8 225.4h0"/><path stroke="#4789ff" d="M420.0 216.0h0M423.8 223.9h0M425.6 234.0h0M427.5 223.9h0M430.2 232.5h0M434.7 218.0h0M437.6 225.4h0M441.0 219.1h0M441.5 221.1h0M446.5 229.0h0M464.5 225.4h0"/><path stroke="#a725bb" d="M404.6 237.3h0M405.6 223.9h0M406.6 241.1h0M412.5 223.8h0"/><path stroke="#4a77fb" d="M423.3 228.5h0M428.8 224.0h0M430.6 235.3h0M431.7 223.9h0"/><path stroke="#af23b7" d="M381.4 225.4h0M391.5 228.3h0M393.1 227.8h0M399.1 225.4h0M402.7 222.2h0M405.5 217.8h0M406.2 208.2h0M408.0 219.3h0M409.7 241.1h0M414.2 215.7h0M418.2 223.9h0"/><path stroke="#498eff" d="M419.3 228.4h0M432.0 231.2h0M446.2 227.8h0M447.1 223.8h0M466.4 225.8h0M487.4 225.4h0"/><path stroke="#7a40d8" d="M403.2 222.1h0M407.6 231.5h0M408.8 236.2h0M409.9 223.8h0M411.1 240.5h0M416.9 220.7h0M417.1 219.1h0M416.4 236.3h0"/><path stroke="#b822b4" d="M393.8 221.9h0M404.5 216.5h0M408.3 217.8h0"/><path stroke="#803bd4" d="M405.7 230.0h0M406.8 217.6h0M413.5 217.6h0M413.9 217.3h0M417.8 226.9h0M417.4 237.5h0M418.7 237.4h0"/><path stroke="#7247de" d="M395.5 224.0h0M409.2 225.4h0M414.8 235.1h0M415.9 226.9h0M415.4 222.4h0"/><path stroke="#5262f5" d="M419.2 219.4h0M420.5 215.9h0"/><path stroke="#902dc6" d="M399.2 220.9h0M406.3 220.7h0M412.7 222.2h0"/><path stroke="#c621a9" d="M409.6 212.9h0"/><path stroke="#4f69f7" d="M415.1 211.9h0M420.5 222.2h0M422.5 212.8h0M424.7 234.4h0M425.0 222.5h0M430.6 224.0h0"/><path stroke="#4585ff" d="M427.1 226.9h0M427.2 219.4h0M429.3 233.9h0M431.9 222.5h0M432.7 228.4h0M436.2 217.7h0M438.2 217.6h0"/><path stroke="#6a4ee4" d="M380.0 225.1h0M407.7 214.7h0M408.4 206.8h0M414.0 236.7h0M415.5 237.4h0M417.9 219.4h0M421.2 234.9h0"/><path stroke="#487efd" d="M420.4 233.2h0M419.5 234.8h0M424.3 214.9h0M424.5 213.4h0M425.6 228.3h0M428.1 233.0h0M429.1 222.5h0M429.2 231.2h0M428.6 234.1h0M430.0 215.5h0M430.5 218.3h0M432.3 232.7h0"/><path stroke="#8536cf" d="M396.7 222.2h0M403.1 230.3h0M409.2 231.6h0M411.2 211.8h0M413.4 228.5h0"/><path stroke="#f92066" d="M400.7 223.9h0M406.5 227.0h0"/><path stroke="#488cff" d="M426.1 214.4h0M435.9 219.3h0M436.9 233.1h0M437.2 224.0h0M440.2 225.4h0M440.6 231.7h0M446.4 224.2h0M446.9 228.6h0M448.2 225.4h0M457.3 224.7h0M456.9 226.1h0M463.5 224.9h0M464.7 225.9h0M469.1 225.8h0M471.7 225.8h0M482.1 225.4h0"/><path stroke="#4a90ff" d="M421.4 223.8h0M431.7 235.6h0M444.7 225.4h0M444.8 221.3h0M449.4 222.9h0M456.7 226.3h0M458.5 224.8h0M462.8 225.4h0M465.7 225.0h0M469.5 225.0h0"/><path stroke="#cd22a2" d="M384.5 223.8h0"/><path stroke="#fd205d" d="M398.4 229.4h0M401.8 220.6h0M405.5 211.6h0"/><path stroke="#c020b0" d="M389.3 225.4h0M393.7 225.4h0M395.6 229.6h0M398.1 228.1h0"/><path stroke="#da2395" d="M407.3 230.0h0"/><path stroke="#9e26be" d="M390.1 226.7h0M395.9 225.4h0M405.0 232.8h0M404.9 238.7h0"/><path stroke="#ff2058" d="M385.6 225.4h0M390.5 224.1h0M405.9 231.5h0M409.6 219.1h0"/><path stroke="#6254e9" d="M415.6 214.9h0M423.8 235.9h0M426.1 225.4h0"/><path stroke="#5a5bef" d="M412.9 225.4h0M416.3 223.8h0M417.0 212.9h0M418.4 235.9h0M429.0 216.7h0"/><path stroke="#fb2062" d="M378.0 225.4h0M386.9 225.4h0M407.9 226.9h0M410.9 226.9h0M418.9 214.9h0"/><path stroke="#9628c2" d="M381.7 226.0h0M395.7 222.6h0M396.0 221.2h0M399.6 228.7h0M403.7 218.9h0M408.2 211.6h0M413.5 223.8h0M413.1 227.0h0M413.2 219.2h0M413.4 211.4h0M414.2 222.2h0"/><line x1="419.45" y1="203" x2="419.45" y2="248" stroke="#949494" stroke-width="2.0" stroke-linecap="butt"/><path stroke="#c621a9" d="M417.2 289.3h0M417.5 281.5h0M418.9 275.2h0M418.3 267.8h0"/><path stroke="#da2395" d="M414.9 285.2h0M413.9 286.9h0M418.1 279.1h0M419.2 273.9h0M419.3 291.7h0M418.8 263.5h0"/><path stroke="#f7206b" d="M414.0 288.7h0"/><path stroke="#e82282" d="M413.0 281.5h0M412.5 277.0h0M416.0 283.2h0M418.3 277.0h0M418.6 275.4h0M419.4 283.2h0M414.8 288.7h0"/><path stroke="#e42388" d="M417.4 272.4h0M418.8 280.0h0M414.2 291.3h0M419.5 288.1h0"/><path stroke="#cd22a2" d="M415.5 275.4h0M417.0 281.6h0M418.5 280.0h0M418.6 274.8h0M418.5 271.3h0"/><path stroke="#6254e9" d="M425.6 277.0h0"/><path stroke="#c020b0" d="M417.3 283.1h0M417.4 276.5h0"/><path stroke="#498eff" d="M421.7 273.6h0M423.1 295.9h0M424.5 273.8h0M433.5 277.9h0M438.7 279.6h0M439.7 279.6h0M442.9 280.4h0M449.0 280.0h0M456.8 280.0h0M458.9 280.3h0M464.0 280.0h0M494.1 280.0h0M500.9 280.0h0M504.5 280.0h0M513.7 279.1h0"/><path stroke="#4789ff" d="M423.3 265.7h0M423.6 264.2h0M434.0 281.8h0M442.1 279.7h0"/><path stroke="#f12176" d="M409.6 283.5h0M410.3 280.0h0M413.3 283.0h0M415.8 278.2h0"/><path stroke="#4585ff" d="M425.1 270.7h0M426.5 271.2h0M428.1 274.2h0M430.9 286.2h0M439.2 280.0h0"/><path stroke="#fd205d" d="M392.5 280.0h0M395.6 277.8h0M398.5 276.3h0M400.5 278.7h0M401.6 280.0h0M401.7 275.8h0M402.7 280.0h0M402.0 282.6h0M404.3 277.3h0M405.4 277.1h0M404.8 274.2h0M406.4 277.4h0M407.8 276.5h0"/><path stroke="#488cff" d="M444.5 280.4h0M463.5 280.3h0M483.5 280.0h0M502.3 280.0h0"/><path stroke="#4d70f9" d="M428.4 272.7h0M428.7 271.2h0"/><path stroke="#f92066" d="M403.1 274.7h0M410.8 274.0h0M411.3 281.4h0M412.7 280.0h0"/><path stroke="#4687ff" d="M420.8 266.2h0M423.0 281.6h0M426.2 274.0h0M427.3 289.6h0"/><path stroke="#4f69f7" d="M420.7 270.8h0"/><path stroke="#4a90ff" d="M423.5 278.4h0M422.7 262.6h0M428.5 290.5h0M431.3 281.5h0M432.0 278.7h0M432.6 276.1h0M436.2 279.6h0M441.0 280.4h0M443.7 279.7h0M462.7 279.7h0M509.4 279.1h0"/><path stroke="#ed227c" d="M415.1 270.7h0M417.7 288.7h0M419.2 295.3h0"/><path stroke="#8536cf" d="M430.4 273.0h0"/><path stroke="#902dc6" d="M428.0 281.5h0"/><path stroke="#7a40d8" d="M431.0 280.0h0"/><path stroke="#487efd" d="M423.5 291.1h0M426.2 268.0h0M427.0 294.5h0"/><path stroke="#ff2058" d="M391.4 280.0h0M398.4 280.0h0M399.7 280.0h0M400.6 283.9h0M404.5 280.0h0M404.0 278.7h0M405.1 278.5h0M407.5 277.7h0M407.3 283.5h0M415.3 289.5h0"/><path stroke="#fb2062" d="M395.3 281.6h0M395.8 280.0h0M397.2 277.6h0M398.2 277.5h0M402.5 277.3h0M409.5 280.0h0M410.9 282.9h0M411.6 282.7h0"/><path stroke="#d3229c" d="M418.3 291.7h0M415.3 279.1h0M419.7 280.9h0"/><path stroke="#f52070" d="M409.3 276.8h0M411.4 273.6h0"/><path stroke="#e0248e" d="M411.9 284.1h0M414.7 285.8h0M417.8 282.9h0M414.7 276.5h0M418.0 275.7h0"/><path stroke="#487efd" d="M426.4 289.2h0M427.1 281.6h0M430.5 278.6h0"/><path stroke="#af23b7" d="M414.0 283.5h0"/><path stroke="#fb2062" d="M397.4 280.0h0M404.1 284.1h0M405.8 275.6h0M406.9 281.2h0M406.3 283.6h0"/><path stroke="#cd22a2" d="M419.6 278.4h0M417.6 265.2h0M419.0 298.9h0"/><path stroke="#e82282" d="M413.8 281.4h0M414.6 277.1h0M415.1 272.1h0M415.0 268.6h0"/><path stroke="#f92066" d="M408.8 282.3h0M413.1 274.0h0M415.7 274.8h0M415.6 271.2h0"/><path stroke="#4a77fb" d="M422.6 286.3h0M425.4 284.6h0M426.6 277.1h0M433.2 279.0h0"/><path stroke="#6254e9" d="M420.8 286.2h0"/><path stroke="#d3229c" d="M418.1 284.4h0M417.6 285.4h0M417.8 272.2h0M418.7 290.8h0"/><path stroke="#9e26be" d="M419.9 276.8h0"/><path stroke="#4687ff" d="M423.6 284.8h0M422.8 294.3h0M424.8 278.4h0M425.2 276.9h0M424.7 293.4h0M427.6 278.5h0M427.2 268.3h0"/><path stroke="#e0248e" d="M414.8 280.0h0M415.7 281.6h0M416.1 272.3h0M416.8 275.4h0M416.6 286.2h0M417.9 272.4h0M418.8 268.9h0M419.4 277.4h0M418.9 267.0h0M419.5 266.1h0M417.8 297.1h0M417.4 261.8h0"/><path stroke="#498eff" d="M423.8 276.8h0M423.4 272.1h0M428.9 286.0h0M446.7 279.7h0M450.6 279.6h0M457.1 280.4h0M462.0 280.0h0M464.3 280.3h0M496.4 280.0h0"/><path stroke="#7a40d8" d="M424.1 280.0h0M428.5 278.5h0"/><path stroke="#fd205d" d="M398.7 281.1h0M399.3 283.4h0M399.5 277.5h0M401.9 281.7h0M405.6 285.1h0M406.6 280.0h0"/><path stroke="#f52070" d="M410.4 275.5h0M415.6 288.1h0M415.2 275.6h0M414.5 269.5h0"/><path stroke="#4789ff" d="M424.7 283.0h0M423.9 291.9h0M425.9 275.5h0M429.2 278.4h0M431.1 275.8h0M446.2 280.4h0M459.4 279.6h0M461.2 280.4h0"/><path stroke="#4d70f9" d="M421.0 269.3h0"/><path stroke="#488cff" d="M421.5 287.7h0M429.9 287.5h0M434.5 280.7h0M440.2 280.0h0M451.6 279.7h0M455.4 280.3h0M457.8 279.7h0M458.6 280.3h0"/><path stroke="#ff2058" d="M396.9 278.8h0M402.8 276.0h0M402.3 284.0h0M403.5 281.4h0M405.3 283.9h0"/><path stroke="#8536cf" d="M420.5 290.8h0"/><path stroke="#f7206b" d="M411.0 280.0h0M412.8 275.5h0M415.4 269.2h0M414.6 280.9h0M414.6 273.0h0"/><path stroke="#c621a9" d="M419.0 288.0h0"/><path stroke="#da2395" d="M417.6 273.9h0M418.7 287.3h0M419.1 292.8h0M418.1 289.9h0"/><path stroke="#e42388" d="M415.9 289.7h0M413.9 266.9h0M418.2 286.3h0M419.8 296.2h0"/><path stroke="#ed227c" d="M414.3 278.6h0M414.3 277.4h0"/><path stroke="#902dc6" d="M420.4 272.4h0M428.0 292.0h0"/><path stroke="#a725bb" d="M419.8 270.5h0M431.8 282.5h0"/><path stroke="#f12176" d="M410.6 281.5h0M414.9 278.5h0"/><path stroke="#4a90ff" d="M428.8 277.1h0M440.7 280.0h0M445.5 280.4h0M445.9 280.0h0M447.8 280.0h0M447.3 279.6h0M448.5 279.6h0M449.8 280.0h0M450.1 280.3h0M452.5 280.4h0M453.9 280.0h0M507.8 280.0h0M511.4 279.1h0"/><path stroke="#4585ff" d="M421.3 267.8h0M421.4 275.2h0M424.2 275.3h0M425.3 278.5h0M429.7 280.0h0"/><path stroke="#4f69f7" d="M422.0 271.9h0"/><path stroke="#4d70f9" d="M425.0 296.3h0"/><path stroke="#4687ff" d="M425.8 286.1h0M432.3 277.4h0M432.1 283.8h0M455.1 280.0h0"/><path stroke="#b822b4" d="M419.7 284.8h0M415.0 281.7h0M419.6 284.5h0M419.7 269.6h0"/><path stroke="#e42388" d="M413.6 275.7h0M415.8 273.8h0M415.2 293.0h0M418.8 287.2h0M419.1 270.4h0"/><path stroke="#e0248e" d="M415.2 276.9h0M416.2 278.5h0M415.4 286.1h0"/><path stroke="#af23b7" d="M432.8 281.3h0"/><path stroke="#498eff" d="M422.2 284.6h0M424.8 272.2h0M436.7 280.0h0M448.1 280.4h0M453.0 279.7h0M460.4 279.7h0M474.7 280.0h0M497.4 280.0h0M498.1 280.0h0M504.2 279.1h0M506.9 279.1h0M508.1 280.0h0M516.3 280.0h0M516.8 279.1h0"/><path stroke="#4585ff" d="M422.4 276.8h0M423.0 267.3h0M427.0 288.0h0"/><path stroke="#902dc6" d="M430.3 283.0h0M429.4 270.6h0"/><path stroke="#9628c2" d="M420.0 286.4h0M426.1 281.5h0"/><path stroke="#e82282" d="M417.1 273.9h0M418.2 270.9h0M419.2 273.7h0M414.0 270.4h0"/><path stroke="#6254e9" d="M421.0 275.4h0M425.6 271.0h0"/><path stroke="#5262f5" d="M423.2 289.5h0M424.0 285.9h0"/><path stroke="#4a90ff" d="M425.2 266.5h0M430.0 281.5h0M430.6 284.6h0M438.2 280.3h0M440.5 280.4h0M441.5 279.6h0M451.1 280.4h0M453.5 280.0h0M459.9 280.0h0M462.4 280.3h0M464.8 279.8h0M496.0 279.1h0M497.7 279.1h0M509.3 279.1h0"/><path stroke="#a725bb" d="M429.1 272.2h0"/><path stroke="#8536cf" d="M420.2 283.1h0"/><path stroke="#fd205d" d="M393.1 280.0h0M396.6 278.9h0M399.2 278.8h0M400.3 282.6h0M403.3 276.0h0M405.6 280.0h0M404.7 281.3h0M405.9 282.4h0M407.7 280.0h0M408.5 281.2h0"/><path stroke="#ed227c" d="M409.8 278.5h0M410.1 277.0h0M414.5 271.4h0M418.4 285.8h0"/><path stroke="#cd22a2" d="M416.3 284.7h0M416.4 270.8h0M414.4 266.0h0"/><path stroke="#c621a9" d="M419.5 272.1h0M414.3 287.8h0M418.2 264.4h0"/><path stroke="#5a5bef" d="M429.3 284.5h0"/><path stroke="#f12176" d="M412.2 285.5h0"/><path stroke="#488cff" d="M421.2 287.7h0M422.7 280.0h0M422.9 287.9h0M426.8 280.0h0M427.4 283.2h0M428.3 283.0h0M429.6 286.0h0M435.4 280.0h0M438.0 280.4h0M444.7 279.6h0M454.7 279.7h0M461.6 279.7h0M463.2 280.0h0M505.5 280.0h0"/><path stroke="#f52070" d="M406.1 278.7h0M410.0 284.4h0M416.7 280.0h0M414.4 284.3h0M414.7 292.1h0"/><path stroke="#803bd4" d="M425.9 269.5h0"/><path stroke="#7a40d8" d="M424.6 288.9h0M427.8 275.6h0"/><path stroke="#487efd" d="M420.9 280.0h0M421.4 268.7h0M424.1 269.1h0M426.9 275.6h0M426.7 292.9h0M428.8 293.5h0M430.1 273.8h0M431.4 274.4h0"/><path stroke="#fb2062" d="M403.0 281.3h0M403.8 282.7h0M406.7 276.0h0M416.9 287.8h0"/><path stroke="#d3229c" d="M413.5 272.5h0M418.5 269.4h0M418.0 290.2h0M414.2 273.9h0M417.3 292.6h0M418.4 298.0h0"/><path stroke="#ff2058" d="M398.0 282.4h0M399.0 282.3h0M401.1 278.6h0"/><path stroke="#da2395" d="M413.7 287.2h0M415.3 286.5h0M419.0 283.6h0M417.5 289.0h0"/><path stroke="#4a77fb" d="M430.2 289.0h0"/><path stroke="#4789ff" d="M421.9 283.1h0M422.5 286.2h0M423.7 270.5h0M422.7 268.9h0M442.6 280.0h0M454.2 280.3h0M455.9 279.7h0"/><path stroke="#7247de" d="M420.4 278.5h0M425.0 284.5h0"/><path stroke="#f7206b" d="M412.4 284.5h0"/><path stroke="#6a4ee4" d="M420.5 284.6h0"/><path stroke="#c020b0" d="M419.9 294.4h0"/><path stroke="#f92066" d="M408.3 282.3h0"/><path stroke="#fd205d" d="M393.4 281.1h0M396.1 281.2h0M400.0 281.3h0M401.2 274.5h0M402.6 285.3h0M403.6 274.7h0M407.2 278.8h0M408.0 281.2h0M409.0 278.4h0M411.1 275.2h0"/><path stroke="#8b32cb" d="M420.0 273.9h0M427.7 284.8h0M427.9 287.5h0"/><path stroke="#4a77fb" d="M426.0 293.7h0"/><path stroke="#f12176" d="M412.1 276.8h0M414.2 272.9h0M415.8 290.4h0"/><path stroke="#498eff" d="M422.1 278.4h0M421.8 289.3h0M422.8 275.2h0M427.2 274.1h0M429.5 276.9h0M434.9 279.4h0M435.7 280.4h0M437.2 279.6h0M449.3 280.5h0M458.3 280.0h0M503.4 280.0h0M510.2 280.0h0M512.7 280.0h0M514.9 280.0h0M518.5 280.0h0"/><path stroke="#e82282" d="M412.7 286.0h0M415.0 284.9h0"/><path stroke="#c020b0" d="M431.6 283.1h0"/><path stroke="#e0248e" d="M418.7 278.3h0M417.7 268.7h0M419.4 262.6h0"/><path stroke="#d3229c" d="M417.5 267.9h0M419.1 281.6h0M419.8 273.1h0M418.0 260.9h0"/><path stroke="#6a4ee4" d="M425.3 272.5h0"/><path stroke="#e42388" d="M418.0 278.5h0M419.3 289.6h0M417.8 281.8h0M417.9 293.5h0"/><path stroke="#803bd4" d="M423.3 283.2h0M428.6 284.5h0"/><path stroke="#6254e9" d="M421.2 281.5h0"/><path stroke="#7a40d8" d="M429.8 275.3h0"/><path stroke="#4585ff" d="M424.9 290.4h0M426.4 283.1h0M426.9 269.7h0M432.4 280.0h0"/><path stroke="#f7206b" d="M415.5 282.6h0"/><path stroke="#487efd" d="M424.4 281.5h0M424.2 294.9h0M425.7 292.2h0M425.5 265.0h0M429.0 269.8h0"/><path stroke="#5a5bef" d="M425.4 290.7h0"/><path stroke="#f92066" d="M402.2 278.7h0"/><path stroke="#488cff" d="M422.6 280.0h0M424.4 267.6h0M427.5 266.8h0M511.6 280.0h0M514.1 280.0h0"/><path stroke="#902dc6" d="M420.2 289.3h0"/><path stroke="#fb2062" d="M395.0 280.0h0M397.7 281.2h0M413.9 274.3h0M415.4 280.0h0"/><path stroke="#4789ff" d="M423.8 292.7h0M425.8 280.0h0M429.0 280.0h0M433.7 280.0h0M437.7 280.0h0M452.0 280.0h0M456.3 279.7h0"/><path stroke="#da2395" d="M417.8 293.1h0M419.6 291.2h0M419.1 280.0h0"/><path stroke="#a725bb" d="M422.2 290.8h0"/><path stroke="#f52070" d="M414.1 282.9h0M416.5 276.9h0M414.1 280.0h0"/><path stroke="#ed227c" d="M411.8 278.4h0M413.5 278.5h0M414.4 284.3h0"/><path stroke="#cd22a2" d="M415.5 267.8h0M418.4 282.7h0M418.5 294.4h0"/><path stroke="#4d70f9" d="M426.7 286.4h0"/><path stroke="#4f69f7" d="M422.3 270.3h0"/><path stroke="#4a90ff" d="M427.5 272.7h0M428.2 289.0h0M430.8 277.2h0M444.2 280.0h0M445.2 280.0h0M460.9 280.0h0M500.1 280.0h0M517.6 280.0h0"/><path stroke="#5262f5" d="M420.7 276.9h0"/><path stroke="#ff2058" d="M393.9 279.0h0M394.5 279.1h0M394.8 278.2h0M396.4 282.4h0M397.5 276.4h0M399.8 276.2h0M400.1 285.2h0M401.4 277.2h0M400.9 283.4h0M405.0 282.6h0"/><path stroke="#4687ff" d="M421.6 281.5h0M423.1 273.7h0M424.3 287.4h0M427.6 291.2h0"/><path stroke="#8536cf" d="M426.1 287.6h0"/><path stroke="#4789ff" d="M411.9 334.6h0"/><path stroke="#4585ff" d="M405.4 334.6h0M407.2 335.8h0M413.7 332.0h0"/><path stroke="#4687ff" d="M402.0 334.6h0M406.5 334.8h0M409.5 335.3h0M413.9 335.5h0"/><path stroke="#487efd" d="M406.9 335.2h0M416.5 330.4h0"/><path stroke="#498eff" d="M392.2 334.6h0M398.3 334.6h0"/><path stroke="#5262f5" d="M413.1 333.9h0"/><path stroke="#ff2058" d="M416.1 333.7h0M415.4 332.0h0M418.1 341.4h0M419.3 337.2h0M419.9 339.0h0M422.1 339.6h0M429.7 334.6h0M440.5 334.6h0M447.2 334.6h0M419.2 332.8h0M419.3 317.7h0"/><path stroke="#f7206b" d="M415.5 339.0h0M419.8 342.5h0M424.0 337.1h0M419.7 334.6h0"/><path stroke="#fd205d" d="M419.1 344.2h0M424.5 333.0h0M436.1 334.6h0M460.2 334.6h0M471.3 334.6h0M479.1 334.6h0M417.4 350.6h0M489.6 334.6h0M491.1 334.6h0"/><path stroke="#4d70f9" d="M409.0 334.0h0M412.3 334.6h0"/><path stroke="#8b32cb" d="M421.7 342.2h0"/><path stroke="#6a4ee4" d="M416.9 341.3h0"/><path stroke="#fb2062" d="M416.1 327.9h0M416.8 326.2h0M417.9 326.1h0M417.7 344.0h0M420.2 328.4h0M421.6 334.6h0M422.0 331.0h0M470.0 334.6h0M416.9 331.9h0M417.6 331.0h0M418.3 330.1h0M419.8 328.4h0M419.6 324.8h0M419.4 321.2h0M417.2 354.2h0M487.8 334.6h0"/><path stroke="#f52070" d="M414.4 333.7h0"/><path stroke="#488cff" d="M415.1 341.6h0"/><path stroke="#f12176" d="M417.2 339.1h0"/><path stroke="#4a77fb" d="M410.0 333.9h0M416.2 343.0h0"/><path stroke="#f92066" d="M415.0 332.8h0M417.0 337.9h0M418.8 331.1h0M419.5 341.6h0M422.2 336.3h0M421.4 341.3h0M423.6 339.7h0M425.3 336.4h0M426.7 334.6h0M417.5 327.5h0M417.7 343.5h0M418.0 323.0h0M417.0 316.8h0"/><path stroke="#902dc6" d="M431.1 334.6h0"/><path stroke="#4a90ff" d="M389.9 334.6h0M396.7 334.6h0M413.8 338.9h0"/><path stroke="#ff2058" d="M414.9 325.8h0M416.1 335.4h0M418.5 338.9h0M419.4 329.4h0M421.2 325.7h0M422.7 332.8h0M424.7 334.6h0M454.5 334.6h0M419.7 349.7h0M418.1 351.5h0M517.8 334.6h0M521.6 334.6h0M494.0 334.6h0M497.6 334.6h0"/><path stroke="#488cff" d="M395.0 334.6h0"/><path stroke="#f52070" d="M419.7 334.6h0M421.9 327.3h0M423.8 333.8h0"/><path stroke="#fd205d" d="M415.0 329.3h0M415.9 326.7h0M416.6 333.8h0M418.4 332.0h0M417.7 330.3h0M419.5 332.9h0M419.0 326.7h0M420.8 336.4h0M420.3 331.9h0M422.4 340.5h0M423.9 340.5h0M425.1 331.3h0M428.0 334.6h0M443.6 334.6h0M461.9 334.6h0M464.4 334.6h0M473.4 334.6h0M418.8 337.3h0M419.0 329.3h0M419.9 346.2h0M496.4 334.6h0"/><path stroke="#487efd" d="M411.2 336.0h0"/><path stroke="#4a77fb" d="M408.9 335.9h0"/><path stroke="#4f69f7" d="M417.1 328.7h0"/><path stroke="#8b32cb" d="M418.3 334.6h0"/><path stroke="#4585ff" d="M408.5 335.2h0"/><path stroke="#fb2062" d="M417.2 332.1h0M420.0 327.6h0M421.3 332.8h0M421.1 337.3h0M420.4 339.1h0M420.2 324.8h0M421.0 344.4h0M421.5 338.0h0M422.8 332.9h0M438.9 334.6h0M448.3 334.6h0M468.8 334.6h0M418.2 326.6h0M418.4 344.4h0"/><path stroke="#4789ff" d="M400.8 334.6h0M413.5 334.6h0"/><path stroke="#f92066" d="M415.2 338.1h0M417.3 342.1h0M417.6 336.3h0M418.0 329.5h0M417.4 343.1h0M419.7 328.5h0M420.7 343.5h0M421.8 338.8h0M478.5 334.6h0"/><path stroke="#498eff" d="M399.3 334.6h0M414.8 340.7h0"/><path stroke="#f7206b" d="M416.6 340.5h0M417.6 326.9h0M420.0 335.5h0M420.5 327.5h0M418.8 352.4h0"/><path stroke="#4687ff" d="M407.9 334.6h0M416.2 331.3h0"/><path stroke="#4789ff" d="M408.2 334.6h0M414.5 337.2h0M415.4 342.5h0"/><path stroke="#4d70f9" d="M410.5 334.6h0"/><path stroke="#f7206b" d="M415.9 336.4h0M416.9 332.9h0M418.6 327.8h0M417.0 342.6h0M418.9 325.7h0"/><path stroke="#fd205d" d="M419.2 333.7h0M418.8 343.3h0M420.9 330.1h0M423.7 336.3h0M423.5 343.0h0M424.2 333.8h0M424.6 338.1h0M417.3 323.9h0M419.5 353.3h0M494.3 334.6h0"/><path stroke="#488cff" d="M394.7 334.6h0"/><path stroke="#8536cf" d="M418.1 332.9h0"/><path stroke="#f92066" d="M414.0 331.2h0M415.6 327.6h0M415.7 343.4h0M418.2 338.0h0M420.6 331.0h0M422.1 343.0h0M424.3 337.2h0M428.5 334.6h0M438.2 334.6h0M417.4 335.5h0M418.4 315.0h0"/><path stroke="#498eff" d="M388.2 334.6h0M391.2 334.6h0"/><path stroke="#4585ff" d="M416.4 327.1h0"/><path stroke="#902dc6" d="M413.5 338.0h0"/><path stroke="#5262f5" d="M412.6 335.3h0"/><path stroke="#f52070" d="M415.6 335.5h0M420.7 340.0h0"/><path stroke="#9e26be" d="M419.0 348.9h0"/><path stroke="#4a77fb" d="M410.8 335.3h0M416.4 336.3h0"/><path stroke="#ff2058" d="M417.8 333.7h0M420.5 335.5h0M420.4 342.6h0M422.6 329.1h0M423.3 338.8h0M423.4 328.0h0M425.0 335.5h0M435.9 334.6h0M444.6 334.6h0"/><path stroke="#487efd" d="M407.4 334.0h0M407.7 333.4h0M410.3 333.2h0M412.9 336.1h0M415.2 334.6h0"/><path stroke="#fb2062" d="M416.7 337.1h0M416.8 329.6h0M417.1 325.4h0M417.8 340.6h0M418.9 339.8h0M421.9 335.4h0M422.3 326.4h0M423.7 327.2h0M423.2 342.2h0M424.0 326.3h0M423.0 343.9h0M433.9 334.6h0M418.1 336.4h0M417.8 319.5h0M492.2 334.6h0"/><path stroke="#ff2058" d="M414.2 336.3h0M417.3 338.8h0M418.6 335.5h0M418.7 331.2h0M418.4 342.3h0M419.8 332.0h0M419.1 330.2h0M419.2 340.7h0M421.2 329.2h0M420.9 326.6h0M421.6 328.2h0M422.6 325.5h0M423.3 335.4h0M422.9 341.3h0M452.9 334.6h0M457.7 334.6h0M465.6 334.6h0M418.5 333.7h0M417.9 339.9h0M417.7 315.9h0"/><path stroke="#f92066" d="M414.7 332.9h0M415.3 328.5h0M417.9 337.2h0M418.3 328.6h0M419.6 325.0h0M421.7 331.9h0M421.9 344.7h0M423.1 332.1h0M423.5 331.3h0M422.8 329.6h0M446.1 334.6h0M456.6 334.6h0M467.0 334.6h0M473.2 334.6h0M418.7 322.1h0M417.1 320.3h0"/><path stroke="#f7206b" d="M419.3 325.9h0M421.0 333.7h0M421.4 341.7h0M418.6 340.8h0M418.5 318.6h0"/><path stroke="#4a77fb" d="M405.7 334.4h0M411.7 333.2h0"/><path stroke="#5a5bef" d="M417.5 339.7h0"/><path stroke="#4f69f7" d="M412.1 333.1h0"/><path stroke="#f12176" d="M418.2 325.2h0M417.6 347.1h0"/><path stroke="#9e26be" d="M420.1 338.2h0"/><path stroke="#487efd" d="M409.8 336.0h0M411.4 333.9h0"/><path stroke="#fd205d" d="M416.3 339.6h0M416.6 343.8h0M419.0 336.3h0M419.6 338.1h0M420.2 334.6h0M422.4 333.7h0M422.5 337.1h0M422.3 330.0h0M422.4 343.8h0M423.0 338.0h0M423.1 328.8h0M432.7 334.6h0M441.8 334.6h0M451.2 334.6h0M455.8 334.6h0M463.5 334.6h0M476.7 334.6h0M419.5 338.2h0M419.3 341.7h0"/><path stroke="#4789ff" d="M409.4 333.3h0"/><path stroke="#fb2062" d="M414.3 330.3h0M414.8 337.2h0M415.8 339.9h0M417.1 334.6h0M421.1 340.8h0M421.6 324.6h0M423.0 334.6h0M423.8 330.5h0M424.8 332.1h0M450.0 334.6h0M459.3 334.6h0M475.2 334.6h0M419.2 345.3h0M418.3 348.0h0"/><path stroke="#4585ff" d="M416.0 330.2h0"/><path stroke="#4687ff" d="M403.1 334.6h0M415.7 331.1h0"/><path stroke="#4a90ff" d="M406.2 334.6h0"/><path stroke="#ed227c" d="M410.8 388.3h0M414.1 384.1h0M417.0 391.9h0M417.4 380.5h0M415.2 407.8h0"/><path stroke="#4f69f7" d="M410.1 390.8h0M412.6 395.1h0"/><path stroke="#7247de" d="M410.3 392.4h0M412.7 395.9h0M420.2 386.7h0M417.6 376.7h0M414.9 372.3h0"/><path stroke="#f52070" d="M413.1 397.6h0M414.2 379.9h0M416.6 393.7h0M416.8 394.6h0M417.5 387.5h0M417.5 396.4h0M418.0 388.3h0M418.0 395.4h0M419.1 389.2h0M423.8 390.9h0"/><path stroke="#8536cf" d="M410.5 393.2h0M418.0 399.0h0"/><path stroke="#9628c2" d="M413.9 379.6h0M418.4 386.5h0"/><path stroke="#498eff" d="M404.2 388.9h0M405.1 389.2h0M408.6 389.5h0M471.7 389.2h0M473.8 389.2h0M478.3 389.2h0"/><path stroke="#e0248e" d="M414.7 398.6h0M414.7 402.9h0M415.2 387.5h0M415.3 392.7h0"/><path stroke="#5a5bef" d="M411.3 387.6h0M411.7 385.9h0M414.2 396.1h0"/><path stroke="#803bd4" d="M410.9 391.6h0M415.2 384.0h0M416.0 376.9h0"/><path stroke="#f7206b" d="M411.1 388.4h0M412.3 392.7h0M413.2 381.5h0M417.7 393.7h0M418.6 394.6h0M421.3 389.2h0M423.0 387.5h0M424.7 388.3h0M424.5 382.3h0M425.0 391.0h0M427.3 387.5h0M416.9 406.0h0"/><path stroke="#8b32cb" d="M414.4 396.9h0"/><path stroke="#d3229c" d="M415.3 379.7h0M416.7 385.7h0"/><path stroke="#9e26be" d="M416.4 390.1h0"/><path stroke="#488cff" d="M406.4 389.2h0"/><path stroke="#4a77fb" d="M409.5 391.6h0"/><path stroke="#902dc6" d="M411.9 394.4h0M414.0 393.7h0M414.4 393.5h0M415.0 388.3h0M417.0 376.9h0M417.8 390.1h0"/><path stroke="#f92066" d="M412.2 387.4h0M416.1 396.3h0M416.4 402.7h0M420.5 388.3h0M420.5 391.8h0M421.2 396.3h0M421.9 390.9h0M423.2 386.7h0M423.4 392.5h0M433.1 388.8h0M439.0 389.2h0"/><path stroke="#b822b4" d="M415.0 381.4h0"/><path stroke="#4789ff" d="M406.7 389.2h0M407.5 389.2h0M407.2 388.9h0"/><path stroke="#6254e9" d="M410.8 384.6h0M412.9 396.8h0M415.7 397.2h0"/><path stroke="#f12176" d="M413.3 398.5h0M415.9 388.3h0M417.3 395.5h0M419.0 396.2h0M417.0 381.2h0M417.9 403.4h0"/><path stroke="#487efd" d="M409.5 388.4h0M409.7 387.6h0"/><path stroke="#ff2058" d="M413.8 399.9h0M416.4 378.7h0M418.3 389.2h0M418.0 384.7h0M418.2 396.3h0M419.3 390.1h0M420.8 383.1h0M421.2 387.4h0M421.4 386.5h0M424.2 387.5h0M426.1 391.9h0M426.9 392.3h0M426.6 385.4h0M427.0 393.1h0M429.5 388.8h0M432.8 389.6h0M433.7 389.2h0M434.4 388.8h0M438.3 388.8h0M415.1 392.7h0"/><path stroke="#6a4ee4" d="M413.0 382.4h0M414.3 400.3h0M416.0 378.5h0"/><path stroke="#a725bb" d="M416.5 386.6h0"/><path stroke="#7a40d8" d="M412.0 384.8h0M413.2 390.9h0M416.7 390.1h0M416.4 385.6h0M415.9 393.6h0M416.0 408.7h0"/><path stroke="#4a90ff" d="M404.0 389.5h0M405.6 388.9h0M408.8 389.2h0"/><path stroke="#e82282" d="M411.8 394.3h0M413.4 401.7h0M414.6 381.6h0M415.7 382.2h0"/><path stroke="#e42388" d="M415.1 391.8h0M415.7 398.1h0"/><path stroke="#fb2062" d="M411.6 390.0h0M417.6 383.1h0M418.5 390.1h0M418.2 387.4h0M418.7 381.2h0M418.4 397.2h0M418.5 401.7h0M419.5 390.0h0M419.5 382.5h0M419.9 380.8h0M420.4 384.9h0M422.7 391.0h0M422.7 381.7h0M424.1 387.5h0M425.5 383.6h0M426.7 391.5h0M427.4 389.2h0M427.6 392.1h0M428.4 388.4h0M431.3 389.2h0M433.4 388.8h0M434.1 389.6h0M436.2 389.6h0M437.9 389.6h0M439.5 388.8h0"/><path stroke="#fd205d" d="M416.9 381.3h0M417.2 381.4h0M420.3 394.5h0M421.2 383.9h0M423.3 390.1h0M422.9 391.8h0M424.4 390.0h0M424.6 394.3h0M425.6 393.6h0M425.8 385.5h0M426.2 392.7h0M427.4 386.6h0M430.6 389.6h0M434.7 389.2h0"/><path stroke="#af23b7" d="M418.8 395.3h0"/><path stroke="#4d70f9" d="M411.6 393.4h0"/><path stroke="#c020b0" d="M415.5 378.8h0M415.4 400.6h0"/><path stroke="#803bd4" d="M412.4 386.6h0M413.9 389.2h0M417.4 388.3h0M417.2 384.7h0M416.5 398.1h0M415.4 404.3h0"/><path stroke="#e0248e" d="M414.9 390.9h0"/><path stroke="#5a5bef" d="M412.7 384.1h0M415.9 399.0h0M417.9 385.7h0M416.3 401.6h0"/><path stroke="#8536cf" d="M413.3 388.3h0M417.3 384.8h0"/><path stroke="#4789ff" d="M409.0 389.7h0"/><path stroke="#8b32cb" d="M412.5 390.1h0M413.4 385.7h0M414.0 400.8h0"/><path stroke="#fd205d" d="M411.2 391.7h0M417.6 379.6h0M419.0 392.7h0M420.0 387.5h0M420.9 393.6h0M420.6 384.0h0M421.0 382.3h0M422.2 383.9h0M422.8 385.0h0M422.6 394.5h0M423.3 382.5h0M423.9 388.4h0M424.4 393.4h0M425.5 386.8h0M429.8 389.2h0M440.1 388.8h0M416.7 394.5h0"/><path stroke="#7a40d8" d="M411.2 395.1h0M413.3 382.2h0M416.8 377.8h0M417.2 391.0h0M415.3 379.4h0"/><path stroke="#6a4ee4" d="M412.5 393.5h0M413.7 391.9h0M416.8 377.6h0"/><path stroke="#5262f5" d="M412.6 391.7h0M413.5 377.9h0"/><path stroke="#ed227c" d="M418.1 376.7h0M416.1 390.1h0M416.6 374.1h0"/><path stroke="#6254e9" d="M412.3 396.1h0M413.3 384.9h0M413.6 388.3h0"/><path stroke="#e82282" d="M414.5 397.8h0M415.2 399.7h0"/><path stroke="#9e26be" d="M415.6 376.3h0"/><path stroke="#da2395" d="M415.4 386.6h0M416.3 400.8h0"/><path stroke="#ff2058" d="M417.7 400.9h0M419.9 391.7h0M419.8 385.0h0M421.7 391.0h0M422.2 387.4h0M422.9 384.2h0M425.7 390.1h0M428.7 389.2h0M428.1 390.0h0M437.0 389.6h0M415.6 400.7h0"/><path stroke="#f7206b" d="M416.1 383.9h0M416.1 399.9h0M415.7 376.1h0M416.9 399.1h0M417.9 394.6h0M417.8 382.2h0M417.5 403.6h0M419.7 381.7h0M431.5 389.6h0"/><path stroke="#498eff" d="M470.4 389.2h0M472.4 389.2h0M479.0 389.2h0"/><path stroke="#f92066" d="M413.0 393.4h0M414.1 390.1h0M417.3 399.1h0M418.5 378.5h0M418.2 399.9h0M420.1 383.3h0M422.3 389.2h0M422.5 390.0h0M423.2 393.6h0M422.8 395.3h0M423.6 390.0h0M425.9 384.6h0M430.0 389.6h0M417.7 391.9h0M414.7 383.9h0"/><path stroke="#f12176" d="M413.5 391.0h0M415.9 384.8h0M416.3 397.2h0M416.0 380.4h0M416.5 400.9h0M418.1 383.8h0M419.1 398.8h0"/><path stroke="#902dc6" d="M412.8 389.2h0M414.4 379.0h0M417.6 389.2h0"/><path stroke="#e42388" d="M416.1 387.4h0"/><path stroke="#fb2062" d="M417.2 377.9h0M418.3 379.4h0M419.3 385.6h0M419.1 382.9h0M421.5 390.1h0M421.1 391.9h0M421.8 384.7h0M422.5 393.4h0M422.6 385.9h0M423.7 385.9h0M425.7 393.6h0M426.6 388.4h0M428.9 388.5h0M430.9 388.8h0M432.0 389.2h0M432.5 388.8h0M438.0 389.6h0"/><path stroke="#a725bb" d="M415.5 382.3h0"/><path stroke="#af23b7" d="M414.9 394.4h0M414.9 378.0h0M418.3 383.0h0"/><path stroke="#f52070" d="M416.4 392.8h0M417.1 400.0h0M417.7 397.3h0M418.1 380.3h0M420.1 389.2h0M427.9 391.4h0"/><path stroke="#b822b4" d="M414.8 377.3h0"/><path stroke="#7247de" d="M410.7 390.8h0M416.2 383.1h0M416.9 388.3h0M416.9 391.0h0M415.6 386.5h0M417.2 369.6h0"/><path stroke="#4a90ff" d="M406.1 388.9h0M408.5 389.2h0M408.2 388.9h0M475.1 389.2h0M476.9 389.2h0"/><path stroke="#9628c2" d="M411.4 392.6h0"/><path stroke="#4f69f7" d="M414.3 383.3h0"/><path stroke="#6254e9" d="M413.1 385.8h0M413.7 380.5h0M417.5 384.0h0M417.4 373.2h0"/><path stroke="#f52070" d="M412.0 390.9h0M414.0 397.2h0M416.8 391.0h0M416.6 397.3h0M418.2 402.6h0M423.9 385.0h0M423.6 393.4h0M425.4 392.7h0M426.4 386.4h0M417.3 399.0h0"/><path stroke="#f7206b" d="M416.9 384.8h0M416.5 383.1h0M419.4 394.4h0M419.2 397.0h0M418.8 399.6h0M419.6 385.8h0M420.7 392.7h0M421.5 382.1h0M422.4 386.5h0M422.1 391.7h0M422.0 384.8h0M417.5 395.4h0M417.1 402.5h0M417.7 406.9h0"/><path stroke="#b822b4" d="M414.7 388.4h0M414.8 395.2h0M415.5 393.6h0"/><path stroke="#7a40d8" d="M414.6 378.2h0M414.2 402.0h0M417.2 396.4h0M414.9 387.4h0"/><path stroke="#487efd" d="M409.3 388.2h0"/><path stroke="#f92066" d="M417.0 395.5h0M417.5 400.0h0M418.7 391.0h0M418.6 385.6h0M418.6 398.1h0M418.8 388.3h0M418.9 383.8h0M419.5 381.1h0M420.1 392.5h0M421.6 394.5h0M425.2 395.3h0M428.3 390.7h0M434.9 389.2h0"/><path stroke="#4a77fb" d="M410.6 385.6h0M418.4 400.8h0"/><path stroke="#803bd4" d="M411.8 385.7h0M411.8 382.1h0M414.4 390.1h0M414.7 385.0h0M414.1 399.5h0M416.2 392.8h0M416.2 405.2h0"/><path stroke="#5262f5" d="M409.8 389.2h0"/><path stroke="#6a4ee4" d="M410.0 390.0h0M416.0 391.9h0M417.1 387.4h0M415.3 389.2h0"/><path stroke="#af23b7" d="M414.8 391.8h0"/><path stroke="#9e26be" d="M419.4 397.9h0"/><path stroke="#498eff" d="M471.5 388.3h0M471.8 388.3h0M473.9 389.2h0"/><path stroke="#902dc6" d="M413.0 378.9h0M414.5 385.8h0M414.5 401.2h0"/><path stroke="#da2395" d="M415.3 396.2h0M415.1 380.6h0"/><path stroke="#9628c2" d="M413.6 384.8h0"/><path stroke="#d3229c" d="M411.5 386.8h0"/><path stroke="#f12176" d="M411.3 384.3h0M413.8 396.3h0M414.1 387.5h0M417.1 383.9h0M417.0 380.4h0"/><path stroke="#4789ff" d="M403.8 389.2h0"/><path stroke="#e42388" d="M415.6 397.9h0M416.2 382.1h0"/><path stroke="#fd205d" d="M417.4 391.9h0M420.9 390.1h0M421.3 392.7h0M421.8 385.7h0M421.9 394.2h0M424.0 391.7h0M424.8 391.7h0M424.3 383.2h0M425.0 394.5h0M426.5 390.8h0M427.7 390.6h0M439.2 389.6h0"/><path stroke="#e82282" d="M415.3 389.2h0M415.8 394.5h0M416.7 398.2h0M415.7 371.4h0"/><path stroke="#5a5bef" d="M412.9 383.2h0M414.0 386.6h0"/><path stroke="#ed227c" d="M415.8 377.8h0"/><path stroke="#ff2058" d="M416.6 378.7h0M419.7 394.2h0M419.8 395.0h0M420.8 389.2h0M420.8 386.6h0M421.3 383.0h0M422.4 383.0h0M423.5 386.7h0M424.1 384.0h0M425.4 389.2h0M424.9 386.0h0M425.1 385.2h0M427.1 386.1h0M428.6 387.7h0M436.0 389.2h0"/><path stroke="#fb2062" d="M412.8 379.8h0M416.3 386.6h0M417.8 402.7h0M419.0 387.4h0M419.1 386.5h0M419.2 393.5h0M418.9 380.2h0M419.9 384.2h0M420.0 395.9h0M420.5 395.4h0M422.3 392.6h0M423.1 392.7h0M423.0 396.2h0M424.7 384.9h0M425.6 390.1h0M425.2 391.8h0M427.0 386.9h0M427.8 388.3h0M429.2 389.2h0M435.1 389.6h0M435.7 388.8h0M436.9 389.2h0M437.8 389.2h0"/><path stroke="#a725bb" d="M414.6 390.9h0M416.4 393.7h0"/><path stroke="#488cff" d="M404.7 389.5h0M469.1 389.2h0M475.8 389.2h0"/><path stroke="#7247de" d="M413.6 399.0h0M417.8 380.3h0M415.1 375.8h0"/><path stroke="#4a90ff" d="M406.9 389.5h0M479.1 389.2h0"/><path stroke="#8b32cb" d="M412.2 383.9h0M413.7 384.0h0M413.7 377.0h0"/><path stroke="#487efd" d="M409.4 390.3h0M415.8 381.3h0"/><path stroke="#fb2062" d="M418.3 392.8h0M419.8 388.4h0M420.6 387.5h0M420.4 391.0h0M421.0 385.7h0M421.6 385.6h0M422.1 395.1h0M422.5 395.9h0M423.1 389.2h0M423.8 394.2h0M423.5 383.3h0M423.9 395.0h0M424.6 390.9h0M424.2 392.6h0M424.2 395.9h0M426.0 388.3h0M426.2 387.4h0M426.8 387.7h0M429.4 389.8h0M431.8 388.8h0M436.6 388.8h0M439.7 389.2h0M439.8 389.6h0M415.0 396.3h0"/><path stroke="#ff2058" d="M418.4 393.7h0M419.4 390.9h0M418.7 384.7h0M420.2 393.4h0M423.6 395.9h0M424.3 386.6h0M424.5 385.8h0M424.8 395.1h0M426.9 389.2h0M427.1 390.0h0M430.4 389.2h0M433.9 389.6h0M438.6 389.2h0"/><path stroke="#e42388" d="M415.6 385.7h0M416.0 395.4h0M416.7 401.8h0M417.6 392.8h0"/><path stroke="#c621a9" d="M414.8 380.7h0"/><path stroke="#f92066" d="M413.5 394.5h0M417.8 378.8h0M418.1 391.9h0M418.5 382.1h0M418.6 377.6h0M419.3 382.0h0M419.7 390.9h0M420.2 396.7h0M421.1 395.4h0M422.8 388.4h0M423.1 383.4h0M424.3 389.2h0M425.3 384.4h0M427.6 389.9h0M432.2 389.7h0"/><path stroke="#da2395" d="M415.0 398.8h0"/><path stroke="#7247de" d="M410.3 389.2h0"/><path stroke="#af23b7" d="M415.4 383.2h0M415.1 395.3h0"/><path stroke="#6a4ee4" d="M410.4 386.5h0M416.5 370.5h0"/><path stroke="#f7206b" d="M412.8 392.6h0M413.9 392.8h0M413.8 376.1h0M418.9 391.8h0M425.3 387.6h0M432.6 389.2h0"/><path stroke="#8536cf" d="M411.5 383.5h0M415.7 385.7h0"/><path stroke="#4a77fb" d="M409.8 386.8h0M413.4 398.1h0"/><path stroke="#fd205d" d="M416.2 389.2h0M421.0 388.3h0M421.5 393.6h0M422.0 388.3h0M423.4 389.2h0M424.1 384.2h0M425.9 391.0h0M437.5 388.8h0"/><path stroke="#488cff" d="M407.2 388.9h0M471.4 389.2h0"/><path stroke="#e82282" d="M414.3 386.7h0M416.5 379.6h0"/><path stroke="#7a40d8" d="M411.0 390.9h0M412.1 391.8h0M412.7 387.5h0"/><path stroke="#5262f5" d="M412.7 378.1h0M414.1 378.8h0"/><path stroke="#4d70f9" d="M412.9 386.6h0"/><path stroke="#f12176" d="M415.8 391.0h0M416.7 382.2h0"/><path stroke="#ed227c" d="M417.7 386.6h0M415.4 383.0h0"/><path stroke="#4789ff" d="M404.5 389.2h0"/><path stroke="#9628c2" d="M414.3 389.2h0M426.3 389.2h0"/><path stroke="#498eff" d="M403.5 389.0h0M407.7 389.5h0M469.7 389.2h0M476.7 389.2h0"/><path stroke="#d3229c" d="M415.1 377.1h0"/><path stroke="#c020b0" d="M415.5 390.1h0M415.4 397.1h0"/><path stroke="#4a90ff" d="M405.3 389.5h0M405.8 389.5h0"/><path stroke="#803bd4" d="M412.0 381.3h0M414.2 392.6h0M416.2 379.6h0"/><path stroke="#8b32cb" d="M417.4 401.8h0M435.4 388.8h0"/><path stroke="#6254e9" d="M411.0 387.4h0M412.1 388.3h0M412.4 383.0h0M413.1 394.3h0M413.8 387.5h0M413.9 383.1h0M413.5 381.4h0"/><path stroke="#902dc6" d="M410.5 390.0h0M411.1 385.1h0M412.4 389.2h0M415.0 384.9h0"/><path stroke="#f52070" d="M413.0 390.0h0M416.5 389.2h0M414.8 399.8h0M415.9 374.9h0"/><path stroke="#5a5bef" d="M411.4 389.2h0M412.1 395.3h0M412.6 380.7h0M413.6 395.4h0"/><path stroke="#a725bb" d="M414.6 394.3h0M414.5 382.4h0M417.3 388.3h0M417.9 398.2h0M425.1 388.4h0"/><path stroke="#a725bb" d="M419.8 437.6h0M419.6 450.9h0M419.8 455.3h0M419.3 457.1h0M419.5 458.0h0"/><path stroke="#af23b7" d="M419.4 450.0h0M419.0 456.2h0M419.6 427.0h0"/><path stroke="#a725bb" d="M419.5 438.5h0M419.9 451.8h0M419.5 434.9h0M419.7 434.1h0M419.4 431.4h0M418.9 429.6h0M419.8 458.9h0M419.2 460.6h0"/><path stroke="#af23b7" d="M419.4 442.9h0M419.8 441.1h0M419.5 446.5h0M419.1 440.3h0M419.2 449.1h0"/><path stroke="#a725bb" d="M419.7 443.8h0M419.0 436.7h0M419.2 432.3h0M419.1 428.7h0M419.4 427.8h0M419.0 459.8h0"/><path stroke="#af23b7" d="M419.0 444.7h0M419.6 442.0h0M419.3 453.6h0M419.8 426.1h0"/><path stroke="#af23b7" d="M419.7 447.3h0M419.2 435.8h0M419.1 452.7h0M419.0 433.2h0M419.6 454.4h0"/><path stroke="#a725bb" d="M419.2 445.6h0M419.3 439.4h0M418.9 448.2h0M419.7 430.5h0M419.5 461.5h0M419.1 425.2h0M419.7 462.4h0M419.3 424.3h0M418.9 463.3h0"/><path stroke="#498eff" d="M412.8 444.3h0"/><path stroke="#fd205c" d="M413.2 443.8h0"/><path stroke="#fc2060" d="M414.6 443.8h0"/><path stroke="#498dff" d="M421.5 445.3h0"/><path stroke="#498dff" d="M423.5 444.8h0"/><path stroke="#498eff" d="M425.5 444.2h0"/><path stroke="#fd205e" d="M428.9 443.8h0"/><path stroke="#fd205e" d="M434.7 443.8h0"/></g>
<line x1="214.5" y1="498.8" x2="605.7" y2="498.8" stroke="#333" stroke-width="1.35"/>
<line x1="262.6" y1="498.8" x2="262.6" y2="503.8" stroke="#333" stroke-width="1.1"/>
<text x="262.6" y="519.6" font-size="15.8" text-anchor="middle">−15</text>
<line x1="314.8" y1="498.8" x2="314.8" y2="503.8" stroke="#333" stroke-width="1.1"/>
<text x="314.8" y="519.6" font-size="15.8" text-anchor="middle">−10</text>
<line x1="367.1" y1="498.8" x2="367.1" y2="503.8" stroke="#333" stroke-width="1.1"/>
<text x="367.1" y="519.6" font-size="15.8" text-anchor="middle">−5</text>
<line x1="419.3" y1="498.8" x2="419.3" y2="503.8" stroke="#333" stroke-width="1.1"/>
<text x="419.3" y="519.6" font-size="15.8" text-anchor="middle">0</text>
<line x1="471.6" y1="498.8" x2="471.6" y2="503.8" stroke="#333" stroke-width="1.1"/>
<text x="471.6" y="519.6" font-size="15.8" text-anchor="middle">5</text>
<line x1="523.8" y1="498.8" x2="523.8" y2="503.8" stroke="#333" stroke-width="1.1"/>
<text x="523.8" y="519.6" font-size="15.8" text-anchor="middle">10</text>
<line x1="576.0" y1="498.8" x2="576.0" y2="503.8" stroke="#333" stroke-width="1.1"/>
<text x="576.0" y="519.6" font-size="15.8" text-anchor="middle">15</text>
<text x="410.2" y="540.9" font-size="18.4" text-anchor="middle">SHAP value (impact on model output)</text>
<text x="182.0" y="68.4" font-size="18.4" text-anchor="end">Wall thickness</text>
<text x="182.0" y="123.0" font-size="18.4" text-anchor="end">Defect depth</text>
<text x="182.0" y="177.6" font-size="18.4" text-anchor="end">Pipe diameter</text>
<text x="182.0" y="232.2" font-size="18.4" text-anchor="end">Defect length</text>
<text x="182.0" y="286.8" font-size="18.4" text-anchor="end">Defect width</text>
<text x="182.0" y="341.4" font-size="18.4" text-anchor="end">Yield strength</text>
<text x="182.0" y="396.0" font-size="18.4" text-anchor="end">Ultimate tensile strength</text>
<text x="182.0" y="450.6" font-size="18.4" text-anchor="end">Elastic modulus</text>
<defs><linearGradient id="cb" x1="0" y1="0" x2="0" y2="1"><stop offset="0.00" stop-color="#ff2058"/><stop offset="0.05" stop-color="#fb2062"/><stop offset="0.10" stop-color="#f7206b"/><stop offset="0.15" stop-color="#f12176"/><stop offset="0.20" stop-color="#e82282"/><stop offset="0.25" stop-color="#e0248e"/><stop offset="0.30" stop-color="#d3229c"/><stop offset="0.35" stop-color="#c621a9"/><stop offset="0.40" stop-color="#b822b4"/><stop offset="0.45" stop-color="#a725bb"/><stop offset="0.50" stop-color="#9628c2"/><stop offset="0.55" stop-color="#8b32cb"/><stop offset="0.60" stop-color="#803bd4"/><stop offset="0.65" stop-color="#7247de"/><stop offset="0.70" stop-color="#6254e9"/><stop offset="0.75" stop-color="#5262f5"/><stop offset="0.80" stop-color="#4d70f9"/><stop offset="0.85" stop-color="#487efd"/><stop offset="0.90" stop-color="#4687ff"/><stop offset="0.95" stop-color="#488cff"/><stop offset="1.00" stop-color="#4a90ff"/></linearGradient></defs>
<rect x="629.5" y="7.1" width="6.2" height="491.4" fill="url(#cb)"/>
<text x="640.2" y="12.8" font-size="15.8">High</text>
<text x="640.6" y="504.5" font-size="15.8">Low</text>
<text transform="translate(682.9,252.8) rotate(-90)" font-size="16.9" text-anchor="middle">Feature value</text>
</g></svg></body></html>
